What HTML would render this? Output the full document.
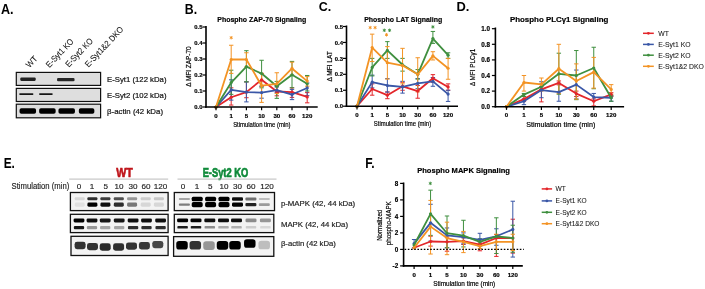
<!DOCTYPE html><html><head><meta charset="utf-8"><style>html,body{margin:0;padding:0;background:#fff;width:705px;height:289px;overflow:hidden}svg{display:block;will-change:transform}</style></head><body>
<svg width="705" height="289" viewBox="0 0 705 289" font-family='"Liberation Sans", sans-serif'>
<defs><filter id="bl" x="-50%" y="-100%" width="200%" height="300%"><feGaussianBlur stdDeviation="0.6"/></filter><filter id="bl2" x="-50%" y="-100%" width="200%" height="300%"><feGaussianBlur stdDeviation="0.5"/></filter></defs>
<rect width="705" height="289" fill="#fff"/>
<text x="0.9" y="13.9" font-size="13.8" font-weight="bold" text-anchor="start" fill="#000" textLength="12.6" lengthAdjust="spacingAndGlyphs" stroke-width="0">A.</text>
<text x="29.5" y="68.3" font-size="8.6" font-weight="normal" text-anchor="start" fill="#111" textLength="12.5" lengthAdjust="spacingAndGlyphs" transform="rotate(-47 29.5 68.3)" stroke="#111" stroke-width="0.06">WT</text>
<text x="49.6" y="68.2" font-size="8.6" font-weight="normal" text-anchor="start" fill="#111" textLength="36" lengthAdjust="spacingAndGlyphs" transform="rotate(-47 49.6 68.2)" stroke="#111" stroke-width="0.06">E-Syt1 KO</text>
<text x="68.9" y="67.8" font-size="8.6" font-weight="normal" text-anchor="start" fill="#111" textLength="36" lengthAdjust="spacingAndGlyphs" transform="rotate(-47 68.9 67.8)" stroke="#111" stroke-width="0.06">E-Syt2 KO</text>
<text x="88.5" y="67.8" font-size="8.6" font-weight="normal" text-anchor="start" fill="#111" textLength="52" lengthAdjust="spacingAndGlyphs" transform="rotate(-47 88.5 67.8)" stroke="#111" stroke-width="0.06">E-Syt1&amp;2 DKO</text>
<rect x="16.3" y="72.4" width="84.3" height="13.0" fill="#dedede" stroke="#111" stroke-width="1.2"/>
<rect x="16.3" y="88.4" width="84.3" height="13.099999999999994" fill="#dedede" stroke="#111" stroke-width="1.2"/>
<rect x="16.3" y="104.2" width="84.3" height="13.599999999999994" fill="#dedede" stroke="#111" stroke-width="1.2"/>
<rect x="20.25" y="77.60" width="15.50" height="3.40" rx="1.13" fill="rgb(35,35,35)" filter="url(#bl)"/>
<rect x="57.05" y="77.90" width="17.50" height="3.40" rx="1.13" fill="rgb(40,40,40)" filter="url(#bl)"/>
<rect x="19.30" y="93.30" width="14.00" height="1.60" rx="0.53" fill="rgb(25,25,25)" filter="url(#bl)"/>
<rect x="39.15" y="93.30" width="13.50" height="1.60" rx="0.53" fill="rgb(25,25,25)" filter="url(#bl)"/>
<rect x="19.55" y="108.30" width="16.50" height="5.40" rx="1.80" fill="rgb(5,5,5)" filter="url(#bl)"/>
<rect x="39.15" y="108.30" width="16.50" height="5.40" rx="1.80" fill="rgb(5,5,5)" filter="url(#bl)"/>
<rect x="58.45" y="108.30" width="16.50" height="5.40" rx="1.80" fill="rgb(5,5,5)" filter="url(#bl)"/>
<rect x="78.85" y="108.30" width="15.50" height="5.40" rx="1.80" fill="rgb(5,5,5)" filter="url(#bl)"/>
<text x="107" y="81.9" font-size="8.1" font-weight="normal" text-anchor="start" fill="#111" textLength="59.5" lengthAdjust="spacingAndGlyphs" stroke="#111" stroke-width="0.2">E-Syt1 (122 kDa)</text>
<text x="107" y="97.7" font-size="8.1" font-weight="normal" text-anchor="start" fill="#111" textLength="59.5" lengthAdjust="spacingAndGlyphs" stroke="#111" stroke-width="0.2">E-Syt2 (102 kDa)</text>
<text x="107" y="113.6" font-size="8.1" font-weight="normal" text-anchor="start" fill="#111" textLength="56" lengthAdjust="spacingAndGlyphs" stroke="#111" stroke-width="0.2">β-actin (42 kDa)</text>
<text x="184.8" y="13.9" font-size="13.8" font-weight="bold" text-anchor="start" fill="#000" textLength="12.3" lengthAdjust="spacingAndGlyphs" stroke-width="0">B.</text>
<text x="261.8" y="22.2" font-size="7.4" font-weight="bold" text-anchor="middle" fill="#000" textLength="89" lengthAdjust="spacingAndGlyphs"  stroke="#000" stroke-width="0.18">Phospho ZAP-70 Signaling</text>
<line x1="231.2" y1="97.24" x2="231.2" y2="87.8" stroke="#e3262b" stroke-width="1.0" />
<line x1="229.0" y1="87.8" x2="233.39999999999998" y2="87.8" stroke="#e3262b" stroke-width="1.0" />
<line x1="231.2" y1="97.24" x2="231.2" y2="105.08" stroke="#e3262b" stroke-width="1.0" />
<line x1="229.0" y1="105.08" x2="233.39999999999998" y2="105.08" stroke="#e3262b" stroke-width="1.0" />
<line x1="246.4" y1="92.12" x2="246.4" y2="81.88" stroke="#e3262b" stroke-width="1.0" />
<line x1="244.20000000000002" y1="81.88" x2="248.6" y2="81.88" stroke="#e3262b" stroke-width="1.0" />
<line x1="246.4" y1="92.12" x2="246.4" y2="97.72" stroke="#e3262b" stroke-width="1.0" />
<line x1="244.20000000000002" y1="97.72" x2="248.6" y2="97.72" stroke="#e3262b" stroke-width="1.0" />
<line x1="261.6" y1="79.8" x2="261.6" y2="73.4" stroke="#e3262b" stroke-width="1.0" />
<line x1="259.40000000000003" y1="73.4" x2="263.8" y2="73.4" stroke="#e3262b" stroke-width="1.0" />
<line x1="261.6" y1="79.8" x2="261.6" y2="86.2" stroke="#e3262b" stroke-width="1.0" />
<line x1="259.40000000000003" y1="86.2" x2="263.8" y2="86.2" stroke="#e3262b" stroke-width="1.0" />
<line x1="276.8" y1="91.48" x2="276.8" y2="86.2" stroke="#e3262b" stroke-width="1.0" />
<line x1="274.6" y1="86.2" x2="279.0" y2="86.2" stroke="#e3262b" stroke-width="1.0" />
<line x1="276.8" y1="91.48" x2="276.8" y2="95.8" stroke="#e3262b" stroke-width="1.0" />
<line x1="274.6" y1="95.8" x2="279.0" y2="95.8" stroke="#e3262b" stroke-width="1.0" />
<line x1="292.0" y1="92.12" x2="292.0" y2="87.8" stroke="#e3262b" stroke-width="1.0" />
<line x1="289.8" y1="87.8" x2="294.2" y2="87.8" stroke="#e3262b" stroke-width="1.0" />
<line x1="292.0" y1="92.12" x2="292.0" y2="97.4" stroke="#e3262b" stroke-width="1.0" />
<line x1="289.8" y1="97.4" x2="294.2" y2="97.4" stroke="#e3262b" stroke-width="1.0" />
<line x1="307.2" y1="96.92" x2="307.2" y2="92.6" stroke="#e3262b" stroke-width="1.0" />
<line x1="305.0" y1="92.6" x2="309.4" y2="92.6" stroke="#e3262b" stroke-width="1.0" />
<line x1="307.2" y1="96.92" x2="307.2" y2="102.84" stroke="#e3262b" stroke-width="1.0" />
<line x1="305.0" y1="102.84" x2="309.4" y2="102.84" stroke="#e3262b" stroke-width="1.0" />
<line x1="231.2" y1="89.88" x2="231.2" y2="79.8" stroke="#3a57a7" stroke-width="1.0" />
<line x1="229.0" y1="79.8" x2="233.39999999999998" y2="79.8" stroke="#3a57a7" stroke-width="1.0" />
<line x1="231.2" y1="89.88" x2="231.2" y2="100.12" stroke="#3a57a7" stroke-width="1.0" />
<line x1="229.0" y1="100.12" x2="233.39999999999998" y2="100.12" stroke="#3a57a7" stroke-width="1.0" />
<line x1="246.4" y1="92.12" x2="246.4" y2="81.88" stroke="#3a57a7" stroke-width="1.0" />
<line x1="244.20000000000002" y1="81.88" x2="248.6" y2="81.88" stroke="#3a57a7" stroke-width="1.0" />
<line x1="246.4" y1="92.12" x2="246.4" y2="101.88" stroke="#3a57a7" stroke-width="1.0" />
<line x1="244.20000000000002" y1="101.88" x2="248.6" y2="101.88" stroke="#3a57a7" stroke-width="1.0" />
<line x1="261.6" y1="92.6" x2="261.6" y2="86.2" stroke="#3a57a7" stroke-width="1.0" />
<line x1="259.40000000000003" y1="86.2" x2="263.8" y2="86.2" stroke="#3a57a7" stroke-width="1.0" />
<line x1="261.6" y1="92.6" x2="261.6" y2="98.2" stroke="#3a57a7" stroke-width="1.0" />
<line x1="259.40000000000003" y1="98.2" x2="263.8" y2="98.2" stroke="#3a57a7" stroke-width="1.0" />
<line x1="276.8" y1="90.04" x2="276.8" y2="87.0" stroke="#3a57a7" stroke-width="1.0" />
<line x1="274.6" y1="87.0" x2="279.0" y2="87.0" stroke="#3a57a7" stroke-width="1.0" />
<line x1="276.8" y1="90.04" x2="276.8" y2="92.6" stroke="#3a57a7" stroke-width="1.0" />
<line x1="274.6" y1="92.6" x2="279.0" y2="92.6" stroke="#3a57a7" stroke-width="1.0" />
<line x1="292.0" y1="94.52" x2="292.0" y2="89.4" stroke="#3a57a7" stroke-width="1.0" />
<line x1="289.8" y1="89.4" x2="294.2" y2="89.4" stroke="#3a57a7" stroke-width="1.0" />
<line x1="292.0" y1="94.52" x2="292.0" y2="99.64" stroke="#3a57a7" stroke-width="1.0" />
<line x1="289.8" y1="99.64" x2="294.2" y2="99.64" stroke="#3a57a7" stroke-width="1.0" />
<line x1="307.2" y1="87.96" x2="307.2" y2="83.0" stroke="#3a57a7" stroke-width="1.0" />
<line x1="305.0" y1="83.0" x2="309.4" y2="83.0" stroke="#3a57a7" stroke-width="1.0" />
<line x1="307.2" y1="87.96" x2="307.2" y2="95.64" stroke="#3a57a7" stroke-width="1.0" />
<line x1="305.0" y1="95.64" x2="309.4" y2="95.64" stroke="#3a57a7" stroke-width="1.0" />
<line x1="231.2" y1="82.52" x2="231.2" y2="70.2" stroke="#3f8f3f" stroke-width="1.0" />
<line x1="229.0" y1="70.2" x2="233.39999999999998" y2="70.2" stroke="#3f8f3f" stroke-width="1.0" />
<line x1="231.2" y1="82.52" x2="231.2" y2="94.36" stroke="#3f8f3f" stroke-width="1.0" />
<line x1="229.0" y1="94.36" x2="233.39999999999998" y2="94.36" stroke="#3f8f3f" stroke-width="1.0" />
<line x1="246.4" y1="66.68" x2="246.4" y2="50.68" stroke="#3f8f3f" stroke-width="1.0" />
<line x1="244.20000000000002" y1="50.68" x2="248.6" y2="50.68" stroke="#3f8f3f" stroke-width="1.0" />
<line x1="246.4" y1="66.68" x2="246.4" y2="81.88" stroke="#3f8f3f" stroke-width="1.0" />
<line x1="244.20000000000002" y1="81.88" x2="248.6" y2="81.88" stroke="#3f8f3f" stroke-width="1.0" />
<line x1="261.6" y1="73.56" x2="261.6" y2="60.28" stroke="#3f8f3f" stroke-width="1.0" />
<line x1="259.40000000000003" y1="60.28" x2="263.8" y2="60.28" stroke="#3f8f3f" stroke-width="1.0" />
<line x1="261.6" y1="73.56" x2="261.6" y2="87.8" stroke="#3f8f3f" stroke-width="1.0" />
<line x1="259.40000000000003" y1="87.8" x2="263.8" y2="87.8" stroke="#3f8f3f" stroke-width="1.0" />
<line x1="276.8" y1="86.2" x2="276.8" y2="81.4" stroke="#3f8f3f" stroke-width="1.0" />
<line x1="274.6" y1="81.4" x2="279.0" y2="81.4" stroke="#3f8f3f" stroke-width="1.0" />
<line x1="276.8" y1="86.2" x2="276.8" y2="98.36" stroke="#3f8f3f" stroke-width="1.0" />
<line x1="274.6" y1="98.36" x2="279.0" y2="98.36" stroke="#3f8f3f" stroke-width="1.0" />
<line x1="292.0" y1="74.84" x2="292.0" y2="61.4" stroke="#3f8f3f" stroke-width="1.0" />
<line x1="289.8" y1="61.4" x2="294.2" y2="61.4" stroke="#3f8f3f" stroke-width="1.0" />
<line x1="292.0" y1="74.84" x2="292.0" y2="87.8" stroke="#3f8f3f" stroke-width="1.0" />
<line x1="289.8" y1="87.8" x2="294.2" y2="87.8" stroke="#3f8f3f" stroke-width="1.0" />
<line x1="307.2" y1="83.8" x2="307.2" y2="75.48" stroke="#3f8f3f" stroke-width="1.0" />
<line x1="305.0" y1="75.48" x2="309.4" y2="75.48" stroke="#3f8f3f" stroke-width="1.0" />
<line x1="307.2" y1="83.8" x2="307.2" y2="91.0" stroke="#3f8f3f" stroke-width="1.0" />
<line x1="305.0" y1="91.0" x2="309.4" y2="91.0" stroke="#3f8f3f" stroke-width="1.0" />
<line x1="231.2" y1="59.48" x2="231.2" y2="45.24" stroke="#f39324" stroke-width="1.0" />
<line x1="229.0" y1="45.24" x2="233.39999999999998" y2="45.24" stroke="#f39324" stroke-width="1.0" />
<line x1="231.2" y1="59.48" x2="231.2" y2="73.4" stroke="#f39324" stroke-width="1.0" />
<line x1="229.0" y1="73.4" x2="233.39999999999998" y2="73.4" stroke="#f39324" stroke-width="1.0" />
<line x1="246.4" y1="59.48" x2="246.4" y2="52.76" stroke="#f39324" stroke-width="1.0" />
<line x1="244.20000000000002" y1="52.76" x2="248.6" y2="52.76" stroke="#f39324" stroke-width="1.0" />
<line x1="246.4" y1="59.48" x2="246.4" y2="67.0" stroke="#f39324" stroke-width="1.0" />
<line x1="244.20000000000002" y1="67.0" x2="248.6" y2="67.0" stroke="#f39324" stroke-width="1.0" />
<line x1="261.6" y1="85.72" x2="261.6" y2="73.4" stroke="#f39324" stroke-width="1.0" />
<line x1="259.40000000000003" y1="73.4" x2="263.8" y2="73.4" stroke="#f39324" stroke-width="1.0" />
<line x1="261.6" y1="85.72" x2="261.6" y2="102.36" stroke="#f39324" stroke-width="1.0" />
<line x1="259.40000000000003" y1="102.36" x2="263.8" y2="102.36" stroke="#f39324" stroke-width="1.0" />
<line x1="276.8" y1="83.8" x2="276.8" y2="72.76" stroke="#f39324" stroke-width="1.0" />
<line x1="274.6" y1="72.76" x2="279.0" y2="72.76" stroke="#f39324" stroke-width="1.0" />
<line x1="276.8" y1="83.8" x2="276.8" y2="93.56" stroke="#f39324" stroke-width="1.0" />
<line x1="274.6" y1="93.56" x2="279.0" y2="93.56" stroke="#f39324" stroke-width="1.0" />
<line x1="292.0" y1="68.44" x2="292.0" y2="62.2" stroke="#f39324" stroke-width="1.0" />
<line x1="289.8" y1="62.2" x2="294.2" y2="62.2" stroke="#f39324" stroke-width="1.0" />
<line x1="292.0" y1="68.44" x2="292.0" y2="75.0" stroke="#f39324" stroke-width="1.0" />
<line x1="289.8" y1="75.0" x2="294.2" y2="75.0" stroke="#f39324" stroke-width="1.0" />
<line x1="307.2" y1="81.08" x2="307.2" y2="76.6" stroke="#f39324" stroke-width="1.0" />
<line x1="305.0" y1="76.6" x2="309.4" y2="76.6" stroke="#f39324" stroke-width="1.0" />
<line x1="307.2" y1="81.08" x2="307.2" y2="86.2" stroke="#f39324" stroke-width="1.0" />
<line x1="305.0" y1="86.2" x2="309.4" y2="86.2" stroke="#f39324" stroke-width="1.0" />
<polyline points="216.0,107 231.2,97.24 246.4,92.12 261.6,79.8 276.8,91.48 292.0,92.12 307.2,96.92" fill="none" stroke="#e3262b" stroke-width="1.8" stroke-linejoin="round"/>
<circle cx="216.0" cy="107" r="1.6" fill="#e3262b"/>
<circle cx="231.2" cy="97.24" r="1.6" fill="#e3262b"/>
<circle cx="246.4" cy="92.12" r="1.6" fill="#e3262b"/>
<circle cx="261.6" cy="79.8" r="1.6" fill="#e3262b"/>
<circle cx="276.8" cy="91.48" r="1.6" fill="#e3262b"/>
<circle cx="292.0" cy="92.12" r="1.6" fill="#e3262b"/>
<circle cx="307.2" cy="96.92" r="1.6" fill="#e3262b"/>
<polyline points="216.0,107 231.2,89.88 246.4,92.12 261.6,92.6 276.8,90.04 292.0,94.52 307.2,87.96" fill="none" stroke="#3a57a7" stroke-width="1.8" stroke-linejoin="round"/>
<circle cx="216.0" cy="107" r="1.6" fill="#3a57a7"/>
<circle cx="231.2" cy="89.88" r="1.6" fill="#3a57a7"/>
<circle cx="246.4" cy="92.12" r="1.6" fill="#3a57a7"/>
<circle cx="261.6" cy="92.6" r="1.6" fill="#3a57a7"/>
<circle cx="276.8" cy="90.04" r="1.6" fill="#3a57a7"/>
<circle cx="292.0" cy="94.52" r="1.6" fill="#3a57a7"/>
<circle cx="307.2" cy="87.96" r="1.6" fill="#3a57a7"/>
<polyline points="216.0,107 231.2,82.52 246.4,66.68 261.6,73.56 276.8,86.2 292.0,74.84 307.2,83.8" fill="none" stroke="#3f8f3f" stroke-width="1.8" stroke-linejoin="round"/>
<circle cx="216.0" cy="107" r="1.6" fill="#3f8f3f"/>
<circle cx="231.2" cy="82.52" r="1.6" fill="#3f8f3f"/>
<circle cx="246.4" cy="66.68" r="1.6" fill="#3f8f3f"/>
<circle cx="261.6" cy="73.56" r="1.6" fill="#3f8f3f"/>
<circle cx="276.8" cy="86.2" r="1.6" fill="#3f8f3f"/>
<circle cx="292.0" cy="74.84" r="1.6" fill="#3f8f3f"/>
<circle cx="307.2" cy="83.8" r="1.6" fill="#3f8f3f"/>
<polyline points="216.0,107 231.2,59.48 246.4,59.48 261.6,85.72 276.8,83.8 292.0,68.44 307.2,81.08" fill="none" stroke="#f39324" stroke-width="1.8" stroke-linejoin="round"/>
<circle cx="216.0" cy="107" r="1.6" fill="#f39324"/>
<circle cx="231.2" cy="59.48" r="1.6" fill="#f39324"/>
<circle cx="246.4" cy="59.48" r="1.6" fill="#f39324"/>
<circle cx="261.6" cy="85.72" r="1.6" fill="#f39324"/>
<circle cx="276.8" cy="83.8" r="1.6" fill="#f39324"/>
<circle cx="292.0" cy="68.44" r="1.6" fill="#f39324"/>
<circle cx="307.2" cy="81.08" r="1.6" fill="#f39324"/>
<line x1="206" y1="26" x2="206" y2="107.8" stroke="#000" stroke-width="1.6" />
<line x1="205.2" y1="107" x2="317.7" y2="107" stroke="#000" stroke-width="1.6" />
<line x1="202.5" y1="107" x2="206" y2="107" stroke="#000" stroke-width="1.2" />
<text x="202.5" y="109.124" font-size="5.9" font-weight="bold" text-anchor="end" fill="#000"  stroke="#000" stroke-width="0.18">0.0</text>
<line x1="202.5" y1="91" x2="206" y2="91" stroke="#000" stroke-width="1.2" />
<text x="202.5" y="93.124" font-size="5.9" font-weight="bold" text-anchor="end" fill="#000"  stroke="#000" stroke-width="0.18">0.1</text>
<line x1="202.5" y1="75" x2="206" y2="75" stroke="#000" stroke-width="1.2" />
<text x="202.5" y="77.124" font-size="5.9" font-weight="bold" text-anchor="end" fill="#000"  stroke="#000" stroke-width="0.18">0.2</text>
<line x1="202.5" y1="59" x2="206" y2="59" stroke="#000" stroke-width="1.2" />
<text x="202.5" y="61.124" font-size="5.9" font-weight="bold" text-anchor="end" fill="#000"  stroke="#000" stroke-width="0.18">0.3</text>
<line x1="202.5" y1="43" x2="206" y2="43" stroke="#000" stroke-width="1.2" />
<text x="202.5" y="45.124" font-size="5.9" font-weight="bold" text-anchor="end" fill="#000"  stroke="#000" stroke-width="0.18">0.4</text>
<line x1="202.5" y1="27" x2="206" y2="27" stroke="#000" stroke-width="1.2" />
<text x="202.5" y="29.124" font-size="5.9" font-weight="bold" text-anchor="end" fill="#000"  stroke="#000" stroke-width="0.18">0.5</text>
<line x1="216.0" y1="107" x2="216.0" y2="110.2" stroke="#000" stroke-width="1.2" />
<line x1="231.2" y1="107" x2="231.2" y2="110.2" stroke="#000" stroke-width="1.2" />
<line x1="246.4" y1="107" x2="246.4" y2="110.2" stroke="#000" stroke-width="1.2" />
<line x1="261.6" y1="107" x2="261.6" y2="110.2" stroke="#000" stroke-width="1.2" />
<line x1="276.8" y1="107" x2="276.8" y2="110.2" stroke="#000" stroke-width="1.2" />
<line x1="292.0" y1="107" x2="292.0" y2="110.2" stroke="#000" stroke-width="1.2" />
<line x1="307.2" y1="107" x2="307.2" y2="110.2" stroke="#000" stroke-width="1.2" />
<path d="M231.20,36.00L231.20,39.40M229.73,36.85L232.67,38.55M232.67,36.85L229.73,38.55" stroke="#f39324" stroke-width="0.95" fill="none"/>
<text x="190.8" y="66.6" font-size="7" font-weight="normal" text-anchor="middle" fill="#000" textLength="40.5" lengthAdjust="spacingAndGlyphs" transform="rotate(-90 190.8 66.6)"  stroke="#000" stroke-width="0.18">Δ MFI ZAP-70</text>
<text x="216.0" y="117.9" font-size="6.1" font-weight="bold" text-anchor="middle" fill="#000"  stroke="#000" stroke-width="0.18">0</text>
<text x="231.2" y="117.9" font-size="6.1" font-weight="bold" text-anchor="middle" fill="#000"  stroke="#000" stroke-width="0.18">1</text>
<text x="246.4" y="117.9" font-size="6.1" font-weight="bold" text-anchor="middle" fill="#000"  stroke="#000" stroke-width="0.18">5</text>
<text x="261.6" y="117.9" font-size="6.1" font-weight="bold" text-anchor="middle" fill="#000"  stroke="#000" stroke-width="0.18">10</text>
<text x="276.8" y="117.9" font-size="6.1" font-weight="bold" text-anchor="middle" fill="#000"  stroke="#000" stroke-width="0.18">30</text>
<text x="292.0" y="117.9" font-size="6.1" font-weight="bold" text-anchor="middle" fill="#000"  stroke="#000" stroke-width="0.18">60</text>
<text x="307.2" y="117.9" font-size="6.1" font-weight="bold" text-anchor="middle" fill="#000"  stroke="#000" stroke-width="0.18">120</text>
<text x="261.8" y="126.7" font-size="6.6" font-weight="normal" text-anchor="middle" fill="#000" textLength="57.3" lengthAdjust="spacingAndGlyphs"  stroke="#000" stroke-width="0.18">Stimulation time (min)</text>
<text x="318.8" y="10.6" font-size="13.6" font-weight="bold" text-anchor="start" fill="#000" textLength="12.5" lengthAdjust="spacingAndGlyphs" stroke-width="0">C.</text>
<text x="403.2" y="21.8" font-size="7.4" font-weight="bold" text-anchor="middle" fill="#000" textLength="78" lengthAdjust="spacingAndGlyphs"  stroke="#000" stroke-width="0.18">Phospho LAT Signaling</text>
<line x1="372.18" y1="88.98" x2="372.18" y2="83.88" stroke="#e3262b" stroke-width="1.0" />
<line x1="369.98" y1="83.88" x2="374.38" y2="83.88" stroke="#e3262b" stroke-width="1.0" />
<line x1="372.18" y1="88.98" x2="372.18" y2="95.2" stroke="#e3262b" stroke-width="1.0" />
<line x1="369.98" y1="95.2" x2="374.38" y2="95.2" stroke="#e3262b" stroke-width="1.0" />
<line x1="387.36" y1="95.2" x2="387.36" y2="91.85" stroke="#e3262b" stroke-width="1.0" />
<line x1="385.16" y1="91.85" x2="389.56" y2="91.85" stroke="#e3262b" stroke-width="1.0" />
<line x1="387.36" y1="95.2" x2="387.36" y2="98.71" stroke="#e3262b" stroke-width="1.0" />
<line x1="385.16" y1="98.71" x2="389.56" y2="98.71" stroke="#e3262b" stroke-width="1.0" />
<line x1="402.54" y1="86.28" x2="402.54" y2="82.29" stroke="#e3262b" stroke-width="1.0" />
<line x1="400.34000000000003" y1="82.29" x2="404.74" y2="82.29" stroke="#e3262b" stroke-width="1.0" />
<line x1="402.54" y1="86.28" x2="402.54" y2="90.26" stroke="#e3262b" stroke-width="1.0" />
<line x1="400.34000000000003" y1="90.26" x2="404.74" y2="90.26" stroke="#e3262b" stroke-width="1.0" />
<line x1="417.72" y1="91.06" x2="417.72" y2="85.48" stroke="#e3262b" stroke-width="1.0" />
<line x1="415.52000000000004" y1="85.48" x2="419.92" y2="85.48" stroke="#e3262b" stroke-width="1.0" />
<line x1="417.72" y1="91.06" x2="417.72" y2="98.23" stroke="#e3262b" stroke-width="1.0" />
<line x1="415.52000000000004" y1="98.23" x2="419.92" y2="98.23" stroke="#e3262b" stroke-width="1.0" />
<line x1="432.9" y1="78.31" x2="432.9" y2="74.64" stroke="#e3262b" stroke-width="1.0" />
<line x1="430.7" y1="74.64" x2="435.09999999999997" y2="74.64" stroke="#e3262b" stroke-width="1.0" />
<line x1="432.9" y1="78.31" x2="432.9" y2="82.29" stroke="#e3262b" stroke-width="1.0" />
<line x1="430.7" y1="82.29" x2="435.09999999999997" y2="82.29" stroke="#e3262b" stroke-width="1.0" />
<line x1="448.08" y1="86.91" x2="448.08" y2="83.88" stroke="#e3262b" stroke-width="1.0" />
<line x1="445.88" y1="83.88" x2="450.28" y2="83.88" stroke="#e3262b" stroke-width="1.0" />
<line x1="448.08" y1="86.91" x2="448.08" y2="90.26" stroke="#e3262b" stroke-width="1.0" />
<line x1="445.88" y1="90.26" x2="450.28" y2="90.26" stroke="#e3262b" stroke-width="1.0" />
<line x1="372.18" y1="82.13" x2="372.18" y2="75.12" stroke="#3a57a7" stroke-width="1.0" />
<line x1="369.98" y1="75.12" x2="374.38" y2="75.12" stroke="#3a57a7" stroke-width="1.0" />
<line x1="372.18" y1="82.13" x2="372.18" y2="87.87" stroke="#3a57a7" stroke-width="1.0" />
<line x1="369.98" y1="87.87" x2="374.38" y2="87.87" stroke="#3a57a7" stroke-width="1.0" />
<line x1="387.36" y1="85.48" x2="387.36" y2="78.62" stroke="#3a57a7" stroke-width="1.0" />
<line x1="385.16" y1="78.62" x2="389.56" y2="78.62" stroke="#3a57a7" stroke-width="1.0" />
<line x1="387.36" y1="85.48" x2="387.36" y2="92.17" stroke="#3a57a7" stroke-width="1.0" />
<line x1="385.16" y1="92.17" x2="389.56" y2="92.17" stroke="#3a57a7" stroke-width="1.0" />
<line x1="402.54" y1="86.91" x2="402.54" y2="81.33" stroke="#3a57a7" stroke-width="1.0" />
<line x1="400.34000000000003" y1="81.33" x2="404.74" y2="81.33" stroke="#3a57a7" stroke-width="1.0" />
<line x1="402.54" y1="86.91" x2="402.54" y2="93.13" stroke="#3a57a7" stroke-width="1.0" />
<line x1="400.34000000000003" y1="93.13" x2="404.74" y2="93.13" stroke="#3a57a7" stroke-width="1.0" />
<line x1="417.72" y1="83.41" x2="417.72" y2="78.62" stroke="#3a57a7" stroke-width="1.0" />
<line x1="415.52000000000004" y1="78.62" x2="419.92" y2="78.62" stroke="#3a57a7" stroke-width="1.0" />
<line x1="417.72" y1="83.41" x2="417.72" y2="88.67" stroke="#3a57a7" stroke-width="1.0" />
<line x1="415.52000000000004" y1="88.67" x2="419.92" y2="88.67" stroke="#3a57a7" stroke-width="1.0" />
<line x1="432.9" y1="81.33" x2="432.9" y2="77.51" stroke="#3a57a7" stroke-width="1.0" />
<line x1="430.7" y1="77.51" x2="435.09999999999997" y2="77.51" stroke="#3a57a7" stroke-width="1.0" />
<line x1="432.9" y1="81.33" x2="432.9" y2="86.28" stroke="#3a57a7" stroke-width="1.0" />
<line x1="430.7" y1="86.28" x2="435.09999999999997" y2="86.28" stroke="#3a57a7" stroke-width="1.0" />
<line x1="448.08" y1="94.09" x2="448.08" y2="90.26" stroke="#3a57a7" stroke-width="1.0" />
<line x1="445.88" y1="90.26" x2="450.28" y2="90.26" stroke="#3a57a7" stroke-width="1.0" />
<line x1="448.08" y1="94.09" x2="448.08" y2="101.42" stroke="#3a57a7" stroke-width="1.0" />
<line x1="445.88" y1="101.42" x2="450.28" y2="101.42" stroke="#3a57a7" stroke-width="1.0" />
<line x1="372.18" y1="67.47" x2="372.18" y2="58.38" stroke="#3f8f3f" stroke-width="1.0" />
<line x1="369.98" y1="58.38" x2="374.38" y2="58.38" stroke="#3f8f3f" stroke-width="1.0" />
<line x1="372.18" y1="67.47" x2="372.18" y2="75.91" stroke="#3f8f3f" stroke-width="1.0" />
<line x1="369.98" y1="75.91" x2="374.38" y2="75.91" stroke="#3f8f3f" stroke-width="1.0" />
<line x1="387.36" y1="50.41" x2="387.36" y2="41.64" stroke="#3f8f3f" stroke-width="1.0" />
<line x1="385.16" y1="41.64" x2="389.56" y2="41.64" stroke="#3f8f3f" stroke-width="1.0" />
<line x1="387.36" y1="50.41" x2="387.36" y2="58.38" stroke="#3f8f3f" stroke-width="1.0" />
<line x1="385.16" y1="58.38" x2="389.56" y2="58.38" stroke="#3f8f3f" stroke-width="1.0" />
<line x1="402.54" y1="64.76" x2="402.54" y2="58.38" stroke="#3f8f3f" stroke-width="1.0" />
<line x1="400.34000000000003" y1="58.38" x2="404.74" y2="58.38" stroke="#3f8f3f" stroke-width="1.0" />
<line x1="402.54" y1="64.76" x2="402.54" y2="71.13" stroke="#3f8f3f" stroke-width="1.0" />
<line x1="400.34000000000003" y1="71.13" x2="404.74" y2="71.13" stroke="#3f8f3f" stroke-width="1.0" />
<line x1="417.72" y1="74.32" x2="417.72" y2="69.54" stroke="#3f8f3f" stroke-width="1.0" />
<line x1="415.52000000000004" y1="69.54" x2="419.92" y2="69.54" stroke="#3f8f3f" stroke-width="1.0" />
<line x1="417.72" y1="74.32" x2="417.72" y2="79.1" stroke="#3f8f3f" stroke-width="1.0" />
<line x1="415.52000000000004" y1="79.1" x2="419.92" y2="79.1" stroke="#3f8f3f" stroke-width="1.0" />
<line x1="432.9" y1="38.61" x2="432.9" y2="31.44" stroke="#3f8f3f" stroke-width="1.0" />
<line x1="430.7" y1="31.44" x2="435.09999999999997" y2="31.44" stroke="#3f8f3f" stroke-width="1.0" />
<line x1="432.9" y1="38.61" x2="432.9" y2="43.4" stroke="#3f8f3f" stroke-width="1.0" />
<line x1="430.7" y1="43.4" x2="435.09999999999997" y2="43.4" stroke="#3f8f3f" stroke-width="1.0" />
<line x1="448.08" y1="55.19" x2="448.08" y2="52.8" stroke="#3f8f3f" stroke-width="1.0" />
<line x1="445.88" y1="52.8" x2="450.28" y2="52.8" stroke="#3f8f3f" stroke-width="1.0" />
<line x1="448.08" y1="55.19" x2="448.08" y2="58.38" stroke="#3f8f3f" stroke-width="1.0" />
<line x1="445.88" y1="58.38" x2="450.28" y2="58.38" stroke="#3f8f3f" stroke-width="1.0" />
<line x1="372.18" y1="47.54" x2="372.18" y2="34.15" stroke="#f39324" stroke-width="1.0" />
<line x1="369.98" y1="34.15" x2="374.38" y2="34.15" stroke="#f39324" stroke-width="1.0" />
<line x1="372.18" y1="47.54" x2="372.18" y2="61.57" stroke="#f39324" stroke-width="1.0" />
<line x1="369.98" y1="61.57" x2="374.38" y2="61.57" stroke="#f39324" stroke-width="1.0" />
<line x1="387.36" y1="62.68" x2="387.36" y2="46.58" stroke="#f39324" stroke-width="1.0" />
<line x1="385.16" y1="46.58" x2="389.56" y2="46.58" stroke="#f39324" stroke-width="1.0" />
<line x1="387.36" y1="62.68" x2="387.36" y2="79.1" stroke="#f39324" stroke-width="1.0" />
<line x1="385.16" y1="79.1" x2="389.56" y2="79.1" stroke="#f39324" stroke-width="1.0" />
<line x1="402.54" y1="65.55" x2="402.54" y2="48.34" stroke="#f39324" stroke-width="1.0" />
<line x1="400.34000000000003" y1="48.34" x2="404.74" y2="48.34" stroke="#f39324" stroke-width="1.0" />
<line x1="402.54" y1="65.55" x2="402.54" y2="83.88" stroke="#f39324" stroke-width="1.0" />
<line x1="400.34000000000003" y1="83.88" x2="404.74" y2="83.88" stroke="#f39324" stroke-width="1.0" />
<line x1="417.72" y1="74.32" x2="417.72" y2="57.74" stroke="#f39324" stroke-width="1.0" />
<line x1="415.52000000000004" y1="57.74" x2="419.92" y2="57.74" stroke="#f39324" stroke-width="1.0" />
<line x1="417.72" y1="74.32" x2="417.72" y2="91.85" stroke="#f39324" stroke-width="1.0" />
<line x1="415.52000000000004" y1="91.85" x2="419.92" y2="91.85" stroke="#f39324" stroke-width="1.0" />
<line x1="432.9" y1="55.83" x2="432.9" y2="51.69" stroke="#f39324" stroke-width="1.0" />
<line x1="430.7" y1="51.69" x2="435.09999999999997" y2="51.69" stroke="#f39324" stroke-width="1.0" />
<line x1="432.9" y1="55.83" x2="432.9" y2="59.97" stroke="#f39324" stroke-width="1.0" />
<line x1="430.7" y1="59.97" x2="435.09999999999997" y2="59.97" stroke="#f39324" stroke-width="1.0" />
<line x1="448.08" y1="68.26" x2="448.08" y2="58.38" stroke="#f39324" stroke-width="1.0" />
<line x1="445.88" y1="58.38" x2="450.28" y2="58.38" stroke="#f39324" stroke-width="1.0" />
<line x1="448.08" y1="68.26" x2="448.08" y2="79.26" stroke="#f39324" stroke-width="1.0" />
<line x1="445.88" y1="79.26" x2="450.28" y2="79.26" stroke="#f39324" stroke-width="1.0" />
<polyline points="357.0,106.2 372.18,88.98 387.36,95.2 402.54,86.28 417.72,91.06 432.9,78.31 448.08,86.91" fill="none" stroke="#e3262b" stroke-width="1.8" stroke-linejoin="round"/>
<circle cx="357.0" cy="106.2" r="1.6" fill="#e3262b"/>
<circle cx="372.18" cy="88.98" r="1.6" fill="#e3262b"/>
<circle cx="387.36" cy="95.2" r="1.6" fill="#e3262b"/>
<circle cx="402.54" cy="86.28" r="1.6" fill="#e3262b"/>
<circle cx="417.72" cy="91.06" r="1.6" fill="#e3262b"/>
<circle cx="432.9" cy="78.31" r="1.6" fill="#e3262b"/>
<circle cx="448.08" cy="86.91" r="1.6" fill="#e3262b"/>
<polyline points="357.0,106.2 372.18,82.13 387.36,85.48 402.54,86.91 417.72,83.41 432.9,81.33 448.08,94.09" fill="none" stroke="#3a57a7" stroke-width="1.8" stroke-linejoin="round"/>
<circle cx="357.0" cy="106.2" r="1.6" fill="#3a57a7"/>
<circle cx="372.18" cy="82.13" r="1.6" fill="#3a57a7"/>
<circle cx="387.36" cy="85.48" r="1.6" fill="#3a57a7"/>
<circle cx="402.54" cy="86.91" r="1.6" fill="#3a57a7"/>
<circle cx="417.72" cy="83.41" r="1.6" fill="#3a57a7"/>
<circle cx="432.9" cy="81.33" r="1.6" fill="#3a57a7"/>
<circle cx="448.08" cy="94.09" r="1.6" fill="#3a57a7"/>
<polyline points="357.0,106.2 372.18,67.47 387.36,50.41 402.54,64.76 417.72,74.32 432.9,38.61 448.08,55.19" fill="none" stroke="#3f8f3f" stroke-width="1.8" stroke-linejoin="round"/>
<circle cx="357.0" cy="106.2" r="1.6" fill="#3f8f3f"/>
<circle cx="372.18" cy="67.47" r="1.6" fill="#3f8f3f"/>
<circle cx="387.36" cy="50.41" r="1.6" fill="#3f8f3f"/>
<circle cx="402.54" cy="64.76" r="1.6" fill="#3f8f3f"/>
<circle cx="417.72" cy="74.32" r="1.6" fill="#3f8f3f"/>
<circle cx="432.9" cy="38.61" r="1.6" fill="#3f8f3f"/>
<circle cx="448.08" cy="55.19" r="1.6" fill="#3f8f3f"/>
<polyline points="357.0,106.2 372.18,47.54 387.36,62.68 402.54,65.55 417.72,74.32 432.9,55.83 448.08,68.26" fill="none" stroke="#f39324" stroke-width="1.8" stroke-linejoin="round"/>
<circle cx="357.0" cy="106.2" r="1.6" fill="#f39324"/>
<circle cx="372.18" cy="47.54" r="1.6" fill="#f39324"/>
<circle cx="387.36" cy="62.68" r="1.6" fill="#f39324"/>
<circle cx="402.54" cy="65.55" r="1.6" fill="#f39324"/>
<circle cx="417.72" cy="74.32" r="1.6" fill="#f39324"/>
<circle cx="432.9" cy="55.83" r="1.6" fill="#f39324"/>
<circle cx="448.08" cy="68.26" r="1.6" fill="#f39324"/>
<line x1="346.5" y1="25.5" x2="346.5" y2="107.0" stroke="#000" stroke-width="1.6" />
<line x1="345.7" y1="106.2" x2="458" y2="106.2" stroke="#000" stroke-width="1.6" />
<line x1="343.0" y1="106.2" x2="346.5" y2="106.2" stroke="#000" stroke-width="1.2" />
<text x="343.0" y="108.324" font-size="5.9" font-weight="bold" text-anchor="end" fill="#000"  stroke="#000" stroke-width="0.18">0.0</text>
<line x1="343.0" y1="90.26" x2="346.5" y2="90.26" stroke="#000" stroke-width="1.2" />
<text x="343.0" y="92.384" font-size="5.9" font-weight="bold" text-anchor="end" fill="#000"  stroke="#000" stroke-width="0.18">0.1</text>
<line x1="343.0" y1="74.32" x2="346.5" y2="74.32" stroke="#000" stroke-width="1.2" />
<text x="343.0" y="76.44399999999999" font-size="5.9" font-weight="bold" text-anchor="end" fill="#000"  stroke="#000" stroke-width="0.18">0.2</text>
<line x1="343.0" y1="58.38" x2="346.5" y2="58.38" stroke="#000" stroke-width="1.2" />
<text x="343.0" y="60.504000000000005" font-size="5.9" font-weight="bold" text-anchor="end" fill="#000"  stroke="#000" stroke-width="0.18">0.3</text>
<line x1="343.0" y1="42.44" x2="346.5" y2="42.44" stroke="#000" stroke-width="1.2" />
<text x="343.0" y="44.564" font-size="5.9" font-weight="bold" text-anchor="end" fill="#000"  stroke="#000" stroke-width="0.18">0.4</text>
<line x1="343.0" y1="26.5" x2="346.5" y2="26.5" stroke="#000" stroke-width="1.2" />
<text x="343.0" y="28.624" font-size="5.9" font-weight="bold" text-anchor="end" fill="#000"  stroke="#000" stroke-width="0.18">0.5</text>
<line x1="357.0" y1="106.2" x2="357.0" y2="109.4" stroke="#000" stroke-width="1.2" />
<line x1="372.18" y1="106.2" x2="372.18" y2="109.4" stroke="#000" stroke-width="1.2" />
<line x1="387.36" y1="106.2" x2="387.36" y2="109.4" stroke="#000" stroke-width="1.2" />
<line x1="402.54" y1="106.2" x2="402.54" y2="109.4" stroke="#000" stroke-width="1.2" />
<line x1="417.72" y1="106.2" x2="417.72" y2="109.4" stroke="#000" stroke-width="1.2" />
<line x1="432.9" y1="106.2" x2="432.9" y2="109.4" stroke="#000" stroke-width="1.2" />
<line x1="448.08" y1="106.2" x2="448.08" y2="109.4" stroke="#000" stroke-width="1.2" />
<path d="M370.20,25.90L370.20,29.30M368.73,26.75L371.67,28.45M371.67,26.75L368.73,28.45" stroke="#f39324" stroke-width="0.95" fill="none"/>
<path d="M375.10,25.90L375.10,29.30M373.63,26.75L376.57,28.45M376.57,26.75L373.63,28.45" stroke="#f39324" stroke-width="0.95" fill="none"/>
<path d="M384.30,28.60L384.30,32.00M382.83,29.45L385.77,31.15M385.77,29.45L382.83,31.15" stroke="#3f8f3f" stroke-width="0.95" fill="none"/>
<path d="M389.60,28.60L389.60,32.00M388.13,29.45L391.07,31.15M391.07,29.45L388.13,31.15" stroke="#3f8f3f" stroke-width="0.95" fill="none"/>
<path d="M386.50,33.10L386.50,36.50M385.03,33.95L387.97,35.65M387.97,33.95L385.03,35.65" stroke="#f39324" stroke-width="0.95" fill="none"/>
<path d="M432.90,25.20L432.90,28.60M431.43,26.05L434.37,27.75M434.37,26.05L431.43,27.75" stroke="#3f8f3f" stroke-width="0.95" fill="none"/>
<text x="331.8" y="66.3" font-size="7" font-weight="normal" text-anchor="middle" fill="#000" textLength="30.3" lengthAdjust="spacingAndGlyphs" transform="rotate(-90 331.8 66.3)"  stroke="#000" stroke-width="0.18">Δ MFI LAT</text>
<text x="357.0" y="117.2" font-size="6.1" font-weight="bold" text-anchor="middle" fill="#000"  stroke="#000" stroke-width="0.18">0</text>
<text x="372.18" y="117.2" font-size="6.1" font-weight="bold" text-anchor="middle" fill="#000"  stroke="#000" stroke-width="0.18">1</text>
<text x="387.36" y="117.2" font-size="6.1" font-weight="bold" text-anchor="middle" fill="#000"  stroke="#000" stroke-width="0.18">5</text>
<text x="402.54" y="117.2" font-size="6.1" font-weight="bold" text-anchor="middle" fill="#000"  stroke="#000" stroke-width="0.18">10</text>
<text x="417.72" y="117.2" font-size="6.1" font-weight="bold" text-anchor="middle" fill="#000"  stroke="#000" stroke-width="0.18">30</text>
<text x="432.9" y="117.2" font-size="6.1" font-weight="bold" text-anchor="middle" fill="#000"  stroke="#000" stroke-width="0.18">60</text>
<text x="448.08" y="117.2" font-size="6.1" font-weight="bold" text-anchor="middle" fill="#000"  stroke="#000" stroke-width="0.18">120</text>
<text x="402.5" y="126.4" font-size="6.6" font-weight="normal" text-anchor="middle" fill="#000" textLength="57.3" lengthAdjust="spacingAndGlyphs"  stroke="#000" stroke-width="0.18">Stimulation time (min)</text>
<text x="456.5" y="10.9" font-size="13.6" font-weight="bold" text-anchor="start" fill="#000" textLength="12.9" lengthAdjust="spacingAndGlyphs" stroke-width="0">D.</text>
<text x="559.1" y="22.2" font-size="7.4" font-weight="bold" text-anchor="middle" fill="#000" textLength="98.4" lengthAdjust="spacingAndGlyphs"  stroke="#000" stroke-width="0.18">Phospho PLCγ1 Signaling</text>
<line x1="523.95" y1="99.13" x2="523.95" y2="96.56" stroke="#e3262b" stroke-width="1.0" />
<line x1="521.75" y1="96.56" x2="526.1500000000001" y2="96.56" stroke="#e3262b" stroke-width="1.0" />
<line x1="523.95" y1="99.13" x2="523.95" y2="101.24" stroke="#e3262b" stroke-width="1.0" />
<line x1="521.75" y1="101.24" x2="526.1500000000001" y2="101.24" stroke="#e3262b" stroke-width="1.0" />
<line x1="541.4" y1="89.38" x2="541.4" y2="86.42" stroke="#e3262b" stroke-width="1.0" />
<line x1="539.1999999999999" y1="86.42" x2="543.6" y2="86.42" stroke="#e3262b" stroke-width="1.0" />
<line x1="541.4" y1="89.38" x2="541.4" y2="101.86" stroke="#e3262b" stroke-width="1.0" />
<line x1="539.1999999999999" y1="101.86" x2="543.6" y2="101.86" stroke="#e3262b" stroke-width="1.0" />
<line x1="558.85" y1="82.91" x2="558.85" y2="80.96" stroke="#e3262b" stroke-width="1.0" />
<line x1="556.65" y1="80.96" x2="561.0500000000001" y2="80.96" stroke="#e3262b" stroke-width="1.0" />
<line x1="558.85" y1="82.91" x2="558.85" y2="84.86" stroke="#e3262b" stroke-width="1.0" />
<line x1="556.65" y1="84.86" x2="561.0500000000001" y2="84.86" stroke="#e3262b" stroke-width="1.0" />
<line x1="576.3" y1="93.6" x2="576.3" y2="91.1" stroke="#e3262b" stroke-width="1.0" />
<line x1="574.0999999999999" y1="91.1" x2="578.5" y2="91.1" stroke="#e3262b" stroke-width="1.0" />
<line x1="576.3" y1="93.6" x2="576.3" y2="96.56" stroke="#e3262b" stroke-width="1.0" />
<line x1="574.0999999999999" y1="96.56" x2="578.5" y2="96.56" stroke="#e3262b" stroke-width="1.0" />
<line x1="593.75" y1="101.24" x2="593.75" y2="98.9" stroke="#e3262b" stroke-width="1.0" />
<line x1="591.55" y1="98.9" x2="595.95" y2="98.9" stroke="#e3262b" stroke-width="1.0" />
<line x1="593.75" y1="101.24" x2="593.75" y2="105.92" stroke="#e3262b" stroke-width="1.0" />
<line x1="591.55" y1="105.92" x2="595.95" y2="105.92" stroke="#e3262b" stroke-width="1.0" />
<line x1="611.2" y1="94.3" x2="611.2" y2="92.66" stroke="#e3262b" stroke-width="1.0" />
<line x1="609.0" y1="92.66" x2="613.4000000000001" y2="92.66" stroke="#e3262b" stroke-width="1.0" />
<line x1="611.2" y1="94.3" x2="611.2" y2="96.56" stroke="#e3262b" stroke-width="1.0" />
<line x1="609.0" y1="96.56" x2="613.4000000000001" y2="96.56" stroke="#e3262b" stroke-width="1.0" />
<line x1="523.95" y1="101.24" x2="523.95" y2="98.9" stroke="#3a57a7" stroke-width="1.0" />
<line x1="521.75" y1="98.9" x2="526.1500000000001" y2="98.9" stroke="#3a57a7" stroke-width="1.0" />
<line x1="523.95" y1="101.24" x2="523.95" y2="104.67" stroke="#3a57a7" stroke-width="1.0" />
<line x1="521.75" y1="104.67" x2="526.1500000000001" y2="104.67" stroke="#3a57a7" stroke-width="1.0" />
<line x1="541.4" y1="90.09" x2="541.4" y2="81.74" stroke="#3a57a7" stroke-width="1.0" />
<line x1="539.1999999999999" y1="81.74" x2="543.6" y2="81.74" stroke="#3a57a7" stroke-width="1.0" />
<line x1="541.4" y1="90.09" x2="541.4" y2="97.73" stroke="#3a57a7" stroke-width="1.0" />
<line x1="539.1999999999999" y1="97.73" x2="543.6" y2="97.73" stroke="#3a57a7" stroke-width="1.0" />
<line x1="558.85" y1="92.19" x2="558.85" y2="83.3" stroke="#3a57a7" stroke-width="1.0" />
<line x1="556.65" y1="83.3" x2="561.0500000000001" y2="83.3" stroke="#3a57a7" stroke-width="1.0" />
<line x1="558.85" y1="92.19" x2="558.85" y2="101.24" stroke="#3a57a7" stroke-width="1.0" />
<line x1="556.65" y1="101.24" x2="561.0500000000001" y2="101.24" stroke="#3a57a7" stroke-width="1.0" />
<line x1="576.3" y1="84.63" x2="576.3" y2="70.04" stroke="#3a57a7" stroke-width="1.0" />
<line x1="574.0999999999999" y1="70.04" x2="578.5" y2="70.04" stroke="#3a57a7" stroke-width="1.0" />
<line x1="576.3" y1="84.63" x2="576.3" y2="98.9" stroke="#3a57a7" stroke-width="1.0" />
<line x1="574.0999999999999" y1="98.9" x2="578.5" y2="98.9" stroke="#3a57a7" stroke-width="1.0" />
<line x1="593.75" y1="97.03" x2="593.75" y2="93.44" stroke="#3a57a7" stroke-width="1.0" />
<line x1="591.55" y1="93.44" x2="595.95" y2="93.44" stroke="#3a57a7" stroke-width="1.0" />
<line x1="593.75" y1="97.03" x2="593.75" y2="100.46" stroke="#3a57a7" stroke-width="1.0" />
<line x1="591.55" y1="100.46" x2="595.95" y2="100.46" stroke="#3a57a7" stroke-width="1.0" />
<line x1="611.2" y1="97.73" x2="611.2" y2="95.78" stroke="#3a57a7" stroke-width="1.0" />
<line x1="609.0" y1="95.78" x2="613.4000000000001" y2="95.78" stroke="#3a57a7" stroke-width="1.0" />
<line x1="611.2" y1="97.73" x2="611.2" y2="101.24" stroke="#3a57a7" stroke-width="1.0" />
<line x1="609.0" y1="101.24" x2="613.4000000000001" y2="101.24" stroke="#3a57a7" stroke-width="1.0" />
<line x1="523.95" y1="94.61" x2="523.95" y2="93.44" stroke="#3f8f3f" stroke-width="1.0" />
<line x1="521.75" y1="93.44" x2="526.1500000000001" y2="93.44" stroke="#3f8f3f" stroke-width="1.0" />
<line x1="523.95" y1="94.61" x2="523.95" y2="96.56" stroke="#3f8f3f" stroke-width="1.0" />
<line x1="521.75" y1="96.56" x2="526.1500000000001" y2="96.56" stroke="#3f8f3f" stroke-width="1.0" />
<line x1="541.4" y1="86.73" x2="541.4" y2="84.08" stroke="#3f8f3f" stroke-width="1.0" />
<line x1="539.1999999999999" y1="84.08" x2="543.6" y2="84.08" stroke="#3f8f3f" stroke-width="1.0" />
<line x1="541.4" y1="86.73" x2="541.4" y2="89.54" stroke="#3f8f3f" stroke-width="1.0" />
<line x1="539.1999999999999" y1="89.54" x2="543.6" y2="89.54" stroke="#3f8f3f" stroke-width="1.0" />
<line x1="558.85" y1="73.78" x2="558.85" y2="53.19" stroke="#3f8f3f" stroke-width="1.0" />
<line x1="556.65" y1="53.19" x2="561.0500000000001" y2="53.19" stroke="#3f8f3f" stroke-width="1.0" />
<line x1="558.85" y1="73.78" x2="558.85" y2="94.22" stroke="#3f8f3f" stroke-width="1.0" />
<line x1="556.65" y1="94.22" x2="561.0500000000001" y2="94.22" stroke="#3f8f3f" stroke-width="1.0" />
<line x1="576.3" y1="75.5" x2="576.3" y2="50.54" stroke="#3f8f3f" stroke-width="1.0" />
<line x1="574.0999999999999" y1="50.54" x2="578.5" y2="50.54" stroke="#3f8f3f" stroke-width="1.0" />
<line x1="576.3" y1="75.5" x2="576.3" y2="99.68" stroke="#3f8f3f" stroke-width="1.0" />
<line x1="574.0999999999999" y1="99.68" x2="578.5" y2="99.68" stroke="#3f8f3f" stroke-width="1.0" />
<line x1="593.75" y1="68.01" x2="593.75" y2="47.26" stroke="#3f8f3f" stroke-width="1.0" />
<line x1="591.55" y1="47.26" x2="595.95" y2="47.26" stroke="#3f8f3f" stroke-width="1.0" />
<line x1="593.75" y1="68.01" x2="593.75" y2="88.76" stroke="#3f8f3f" stroke-width="1.0" />
<line x1="591.55" y1="88.76" x2="595.95" y2="88.76" stroke="#3f8f3f" stroke-width="1.0" />
<line x1="611.2" y1="97.73" x2="611.2" y2="95.78" stroke="#3f8f3f" stroke-width="1.0" />
<line x1="609.0" y1="95.78" x2="613.4000000000001" y2="95.78" stroke="#3f8f3f" stroke-width="1.0" />
<line x1="611.2" y1="97.73" x2="611.2" y2="101.24" stroke="#3f8f3f" stroke-width="1.0" />
<line x1="609.0" y1="101.24" x2="613.4000000000001" y2="101.24" stroke="#3f8f3f" stroke-width="1.0" />
<line x1="523.95" y1="82.52" x2="523.95" y2="75.5" stroke="#f39324" stroke-width="1.0" />
<line x1="521.75" y1="75.5" x2="526.1500000000001" y2="75.5" stroke="#f39324" stroke-width="1.0" />
<line x1="523.95" y1="82.52" x2="523.95" y2="91.1" stroke="#f39324" stroke-width="1.0" />
<line x1="521.75" y1="91.1" x2="526.1500000000001" y2="91.1" stroke="#f39324" stroke-width="1.0" />
<line x1="541.4" y1="84.31" x2="541.4" y2="78.0" stroke="#f39324" stroke-width="1.0" />
<line x1="539.1999999999999" y1="78.0" x2="543.6" y2="78.0" stroke="#f39324" stroke-width="1.0" />
<line x1="541.4" y1="84.31" x2="541.4" y2="91.1" stroke="#f39324" stroke-width="1.0" />
<line x1="539.1999999999999" y1="91.1" x2="543.6" y2="91.1" stroke="#f39324" stroke-width="1.0" />
<line x1="558.85" y1="68.71" x2="558.85" y2="44.3" stroke="#f39324" stroke-width="1.0" />
<line x1="556.65" y1="44.3" x2="561.0500000000001" y2="44.3" stroke="#f39324" stroke-width="1.0" />
<line x1="558.85" y1="68.71" x2="558.85" y2="93.6" stroke="#f39324" stroke-width="1.0" />
<line x1="556.65" y1="93.6" x2="561.0500000000001" y2="93.6" stroke="#f39324" stroke-width="1.0" />
<line x1="576.3" y1="80.96" x2="576.3" y2="63.88" stroke="#f39324" stroke-width="1.0" />
<line x1="574.0999999999999" y1="63.88" x2="578.5" y2="63.88" stroke="#f39324" stroke-width="1.0" />
<line x1="576.3" y1="80.96" x2="576.3" y2="99.13" stroke="#f39324" stroke-width="1.0" />
<line x1="574.0999999999999" y1="99.13" x2="578.5" y2="99.13" stroke="#f39324" stroke-width="1.0" />
<line x1="593.75" y1="72.15" x2="593.75" y2="57.4" stroke="#f39324" stroke-width="1.0" />
<line x1="591.55" y1="57.4" x2="595.95" y2="57.4" stroke="#f39324" stroke-width="1.0" />
<line x1="593.75" y1="72.15" x2="593.75" y2="88.14" stroke="#f39324" stroke-width="1.0" />
<line x1="591.55" y1="88.14" x2="595.95" y2="88.14" stroke="#f39324" stroke-width="1.0" />
<line x1="611.2" y1="89.38" x2="611.2" y2="84.63" stroke="#f39324" stroke-width="1.0" />
<line x1="609.0" y1="84.63" x2="613.4000000000001" y2="84.63" stroke="#f39324" stroke-width="1.0" />
<line x1="611.2" y1="89.38" x2="611.2" y2="94.22" stroke="#f39324" stroke-width="1.0" />
<line x1="609.0" y1="94.22" x2="613.4000000000001" y2="94.22" stroke="#f39324" stroke-width="1.0" />
<polyline points="506.5,106.7 523.95,99.13 541.4,89.38 558.85,82.91 576.3,93.6 593.75,101.24 611.2,94.3" fill="none" stroke="#e3262b" stroke-width="1.8" stroke-linejoin="round"/>
<circle cx="506.5" cy="106.7" r="1.6" fill="#e3262b"/>
<circle cx="523.95" cy="99.13" r="1.6" fill="#e3262b"/>
<circle cx="541.4" cy="89.38" r="1.6" fill="#e3262b"/>
<circle cx="558.85" cy="82.91" r="1.6" fill="#e3262b"/>
<circle cx="576.3" cy="93.6" r="1.6" fill="#e3262b"/>
<circle cx="593.75" cy="101.24" r="1.6" fill="#e3262b"/>
<circle cx="611.2" cy="94.3" r="1.6" fill="#e3262b"/>
<polyline points="506.5,106.7 523.95,101.24 541.4,90.09 558.85,92.19 576.3,84.63 593.75,97.03 611.2,97.73" fill="none" stroke="#3a57a7" stroke-width="1.8" stroke-linejoin="round"/>
<circle cx="506.5" cy="106.7" r="1.6" fill="#3a57a7"/>
<circle cx="523.95" cy="101.24" r="1.6" fill="#3a57a7"/>
<circle cx="541.4" cy="90.09" r="1.6" fill="#3a57a7"/>
<circle cx="558.85" cy="92.19" r="1.6" fill="#3a57a7"/>
<circle cx="576.3" cy="84.63" r="1.6" fill="#3a57a7"/>
<circle cx="593.75" cy="97.03" r="1.6" fill="#3a57a7"/>
<circle cx="611.2" cy="97.73" r="1.6" fill="#3a57a7"/>
<polyline points="506.5,106.7 523.95,94.61 541.4,86.73 558.85,73.78 576.3,75.5 593.75,68.01 611.2,97.73" fill="none" stroke="#3f8f3f" stroke-width="1.8" stroke-linejoin="round"/>
<circle cx="506.5" cy="106.7" r="1.6" fill="#3f8f3f"/>
<circle cx="523.95" cy="94.61" r="1.6" fill="#3f8f3f"/>
<circle cx="541.4" cy="86.73" r="1.6" fill="#3f8f3f"/>
<circle cx="558.85" cy="73.78" r="1.6" fill="#3f8f3f"/>
<circle cx="576.3" cy="75.5" r="1.6" fill="#3f8f3f"/>
<circle cx="593.75" cy="68.01" r="1.6" fill="#3f8f3f"/>
<circle cx="611.2" cy="97.73" r="1.6" fill="#3f8f3f"/>
<polyline points="506.5,106.7 523.95,82.52 541.4,84.31 558.85,68.71 576.3,80.96 593.75,72.15 611.2,89.38" fill="none" stroke="#f39324" stroke-width="1.8" stroke-linejoin="round"/>
<circle cx="506.5" cy="106.7" r="1.6" fill="#f39324"/>
<circle cx="523.95" cy="82.52" r="1.6" fill="#f39324"/>
<circle cx="541.4" cy="84.31" r="1.6" fill="#f39324"/>
<circle cx="558.85" cy="68.71" r="1.6" fill="#f39324"/>
<circle cx="576.3" cy="80.96" r="1.6" fill="#f39324"/>
<circle cx="593.75" cy="72.15" r="1.6" fill="#f39324"/>
<circle cx="611.2" cy="89.38" r="1.6" fill="#f39324"/>
<line x1="495.4" y1="27.5" x2="495.4" y2="107.5" stroke="#000" stroke-width="1.6" />
<line x1="494.59999999999997" y1="106.7" x2="624.1" y2="106.7" stroke="#000" stroke-width="1.6" />
<line x1="491.9" y1="106.7" x2="495.4" y2="106.7" stroke="#000" stroke-width="1.2" />
<text x="490.0" y="108.968" font-size="6.3" font-weight="bold" text-anchor="end" fill="#000"  stroke="#000" stroke-width="0.18">0.0</text>
<line x1="491.9" y1="91.1" x2="495.4" y2="91.1" stroke="#000" stroke-width="1.2" />
<text x="490.0" y="93.368" font-size="6.3" font-weight="bold" text-anchor="end" fill="#000"  stroke="#000" stroke-width="0.18">0.2</text>
<line x1="491.9" y1="75.5" x2="495.4" y2="75.5" stroke="#000" stroke-width="1.2" />
<text x="490.0" y="77.768" font-size="6.3" font-weight="bold" text-anchor="end" fill="#000"  stroke="#000" stroke-width="0.18">0.4</text>
<line x1="491.9" y1="59.9" x2="495.4" y2="59.9" stroke="#000" stroke-width="1.2" />
<text x="490.0" y="62.168" font-size="6.3" font-weight="bold" text-anchor="end" fill="#000"  stroke="#000" stroke-width="0.18">0.6</text>
<line x1="491.9" y1="44.3" x2="495.4" y2="44.3" stroke="#000" stroke-width="1.2" />
<text x="490.0" y="46.568" font-size="6.3" font-weight="bold" text-anchor="end" fill="#000"  stroke="#000" stroke-width="0.18">0.8</text>
<line x1="491.9" y1="28.7" x2="495.4" y2="28.7" stroke="#000" stroke-width="1.2" />
<text x="490.0" y="30.968" font-size="6.3" font-weight="bold" text-anchor="end" fill="#000"  stroke="#000" stroke-width="0.18">1.0</text>
<line x1="506.5" y1="106.7" x2="506.5" y2="109.9" stroke="#000" stroke-width="1.2" />
<line x1="523.95" y1="106.7" x2="523.95" y2="109.9" stroke="#000" stroke-width="1.2" />
<line x1="541.4" y1="106.7" x2="541.4" y2="109.9" stroke="#000" stroke-width="1.2" />
<line x1="558.85" y1="106.7" x2="558.85" y2="109.9" stroke="#000" stroke-width="1.2" />
<line x1="576.3" y1="106.7" x2="576.3" y2="109.9" stroke="#000" stroke-width="1.2" />
<line x1="593.75" y1="106.7" x2="593.75" y2="109.9" stroke="#000" stroke-width="1.2" />
<line x1="611.2" y1="106.7" x2="611.2" y2="109.9" stroke="#000" stroke-width="1.2" />
<text x="474.9" y="67.4" font-size="7" font-weight="normal" text-anchor="middle" fill="#000" textLength="37.3" lengthAdjust="spacingAndGlyphs" transform="rotate(-90 474.9 67.4)"  stroke="#000" stroke-width="0.18">Δ MFI PLCγ1</text>
<text x="506.5" y="117.3" font-size="6.1" font-weight="bold" text-anchor="middle" fill="#000"  stroke="#000" stroke-width="0.18">0</text>
<text x="523.95" y="117.3" font-size="6.1" font-weight="bold" text-anchor="middle" fill="#000"  stroke="#000" stroke-width="0.18">1</text>
<text x="541.4" y="117.3" font-size="6.1" font-weight="bold" text-anchor="middle" fill="#000"  stroke="#000" stroke-width="0.18">5</text>
<text x="558.85" y="117.3" font-size="6.1" font-weight="bold" text-anchor="middle" fill="#000"  stroke="#000" stroke-width="0.18">10</text>
<text x="576.3" y="117.3" font-size="6.1" font-weight="bold" text-anchor="middle" fill="#000"  stroke="#000" stroke-width="0.18">30</text>
<text x="593.75" y="117.3" font-size="6.1" font-weight="bold" text-anchor="middle" fill="#000"  stroke="#000" stroke-width="0.18">60</text>
<text x="611.2" y="117.3" font-size="6.1" font-weight="bold" text-anchor="middle" fill="#000"  stroke="#000" stroke-width="0.18">120</text>
<text x="560.8" y="126.9" font-size="6.6" font-weight="normal" text-anchor="middle" fill="#000" textLength="69" lengthAdjust="spacingAndGlyphs"  stroke="#000" stroke-width="0.18">Stimulation time (min)</text>
<line x1="643" y1="33.3" x2="653.8" y2="33.3" stroke="#e3262b" stroke-width="1.5" />
<circle cx="648.4" cy="33.3" r="1.4" fill="#e3262b"/>
<text x="658.2" y="35.699999999999996" font-size="6.85" font-weight="normal" text-anchor="start" fill="#111" stroke="#111" stroke-width="0.05">WT</text>
<line x1="643" y1="44.4" x2="653.8" y2="44.4" stroke="#3a57a7" stroke-width="1.5" />
<circle cx="648.4" cy="44.4" r="1.4" fill="#3a57a7"/>
<text x="658.2" y="46.8" font-size="6.85" font-weight="normal" text-anchor="start" fill="#111" stroke="#111" stroke-width="0.05">E-Syt1 KO</text>
<line x1="643" y1="55.2" x2="653.8" y2="55.2" stroke="#3f8f3f" stroke-width="1.5" />
<circle cx="648.4" cy="55.2" r="1.4" fill="#3f8f3f"/>
<text x="658.2" y="57.6" font-size="6.85" font-weight="normal" text-anchor="start" fill="#111" stroke="#111" stroke-width="0.05">E-Syt2 KO</text>
<line x1="643" y1="66.3" x2="653.8" y2="66.3" stroke="#f39324" stroke-width="1.5" />
<circle cx="648.4" cy="66.3" r="1.4" fill="#f39324"/>
<text x="658.2" y="68.7" font-size="6.85" font-weight="normal" text-anchor="start" fill="#111" textLength="45.7" lengthAdjust="spacingAndGlyphs" stroke="#111" stroke-width="0.05">E-Syt1&amp;2 DKO</text>
<text x="3.7" y="167.6" font-size="13.8" font-weight="bold" text-anchor="start" fill="#000" textLength="11.2" lengthAdjust="spacingAndGlyphs" stroke-width="0">E.</text>
<text x="11.6" y="188.7" font-size="8.3" font-weight="normal" text-anchor="start" fill="#222" textLength="57.7" lengthAdjust="spacingAndGlyphs" stroke="#222" stroke-width="0.15">Stimulation (min)</text>
<text x="124.5" y="176.8" font-size="12.4" font-weight="bold" text-anchor="middle" fill="#bf151b" textLength="16.6" lengthAdjust="spacingAndGlyphs" stroke="#bf151b" stroke-width="0.6">WT</text>
<text x="225.4" y="176.7" font-size="12.2" font-weight="bold" text-anchor="middle" fill="#0f8a3a" textLength="45.5" lengthAdjust="spacingAndGlyphs" stroke="#0f8a3a" stroke-width="0.65">E-Syt2 KO</text>
<line x1="69.2" y1="179.1" x2="168.2" y2="179.1" stroke="#b4b4b4" stroke-width="0.9" />
<line x1="177.5" y1="179.1" x2="276.5" y2="179.1" stroke="#b4b4b4" stroke-width="0.9" />
<text x="78.9" y="188.7" font-size="8.1" font-weight="normal" text-anchor="middle" fill="#222" stroke="#222" stroke-width="0.15">0</text>
<text x="91.9" y="188.7" font-size="8.1" font-weight="normal" text-anchor="middle" fill="#222" stroke="#222" stroke-width="0.15">1</text>
<text x="105.7" y="188.7" font-size="8.1" font-weight="normal" text-anchor="middle" fill="#222" stroke="#222" stroke-width="0.15">5</text>
<text x="119" y="188.7" font-size="8.1" font-weight="normal" text-anchor="middle" fill="#222" stroke="#222" stroke-width="0.15">10</text>
<text x="132.9" y="188.7" font-size="8.1" font-weight="normal" text-anchor="middle" fill="#222" stroke="#222" stroke-width="0.15">30</text>
<text x="145.9" y="188.7" font-size="8.1" font-weight="normal" text-anchor="middle" fill="#222" stroke="#222" stroke-width="0.15">60</text>
<text x="160.6" y="188.7" font-size="8.1" font-weight="normal" text-anchor="middle" fill="#222" stroke="#222" stroke-width="0.15">120</text>
<text x="183" y="188.7" font-size="8.1" font-weight="normal" text-anchor="middle" fill="#222" stroke="#222" stroke-width="0.15">0</text>
<text x="196.9" y="188.7" font-size="8.1" font-weight="normal" text-anchor="middle" fill="#222" stroke="#222" stroke-width="0.15">1</text>
<text x="210.2" y="188.7" font-size="8.1" font-weight="normal" text-anchor="middle" fill="#222" stroke="#222" stroke-width="0.15">5</text>
<text x="224" y="188.7" font-size="8.1" font-weight="normal" text-anchor="middle" fill="#222" stroke="#222" stroke-width="0.15">10</text>
<text x="237.6" y="188.7" font-size="8.1" font-weight="normal" text-anchor="middle" fill="#222" stroke="#222" stroke-width="0.15">30</text>
<text x="250.9" y="188.7" font-size="8.1" font-weight="normal" text-anchor="middle" fill="#222" stroke="#222" stroke-width="0.15">60</text>
<text x="266.9" y="188.7" font-size="8.1" font-weight="normal" text-anchor="middle" fill="#222" stroke="#222" stroke-width="0.15">120</text>
<rect x="70.4" y="192.5" width="97.69999999999999" height="18.099999999999994" fill="#f3f3f3" stroke="#111" stroke-width="1.3"/>
<rect x="74.70" y="197.20" width="10.00" height="3.00" rx="1.00" fill="rgb(215,215,215)" filter="url(#bl)"/>
<rect x="74.70" y="202.50" width="10.00" height="4.20" rx="1.40" fill="rgb(225,225,225)" filter="url(#bl)"/>
<rect x="87.40" y="197.20" width="10.00" height="3.00" rx="1.00" fill="rgb(45,45,45)" filter="url(#bl)"/>
<rect x="87.40" y="202.50" width="10.00" height="4.20" rx="1.40" fill="rgb(5,5,5)" filter="url(#bl)"/>
<rect x="100.40" y="197.20" width="10.00" height="3.00" rx="1.00" fill="rgb(60,60,60)" filter="url(#bl)"/>
<rect x="100.40" y="202.50" width="10.00" height="4.20" rx="1.40" fill="rgb(15,15,15)" filter="url(#bl)"/>
<rect x="113.80" y="197.20" width="10.00" height="3.00" rx="1.00" fill="rgb(80,80,80)" filter="url(#bl)"/>
<rect x="113.80" y="202.50" width="10.00" height="4.20" rx="1.40" fill="rgb(45,45,45)" filter="url(#bl)"/>
<rect x="127.10" y="197.20" width="10.00" height="3.00" rx="1.00" fill="rgb(150,150,150)" filter="url(#bl)"/>
<rect x="127.10" y="202.50" width="10.00" height="4.20" rx="1.40" fill="rgb(120,120,120)" filter="url(#bl)"/>
<rect x="140.70" y="197.20" width="10.00" height="3.00" rx="1.00" fill="rgb(205,205,205)" filter="url(#bl)"/>
<rect x="140.70" y="202.50" width="10.00" height="4.20" rx="1.40" fill="rgb(215,215,215)" filter="url(#bl)"/>
<rect x="153.90" y="197.20" width="10.00" height="3.00" rx="1.00" fill="rgb(200,200,200)" filter="url(#bl)"/>
<rect x="153.90" y="202.50" width="10.00" height="4.20" rx="1.40" fill="rgb(215,215,215)" filter="url(#bl)"/>
<rect x="70.4" y="214.3" width="97.69999999999999" height="18.299999999999983" fill="#f3f3f3" stroke="#111" stroke-width="1.3"/>
<rect x="73.60" y="218.40" width="10.80" height="4.00" rx="1.33" fill="rgb(0,0,0)" filter="url(#bl)"/>
<rect x="73.85" y="226.00" width="10.30" height="3.20" rx="1.07" fill="rgb(25,25,25)" filter="url(#bl)"/>
<rect x="86.60" y="218.40" width="10.80" height="4.00" rx="1.33" fill="rgb(15,15,15)" filter="url(#bl)"/>
<rect x="86.85" y="226.00" width="10.30" height="3.20" rx="1.07" fill="rgb(150,150,150)" filter="url(#bl)"/>
<rect x="99.80" y="218.40" width="10.80" height="4.00" rx="1.33" fill="rgb(25,25,25)" filter="url(#bl)"/>
<rect x="100.05" y="226.00" width="10.30" height="3.20" rx="1.07" fill="rgb(165,165,165)" filter="url(#bl)"/>
<rect x="113.80" y="218.40" width="10.80" height="4.00" rx="1.33" fill="rgb(25,25,25)" filter="url(#bl)"/>
<rect x="114.05" y="226.00" width="10.30" height="3.20" rx="1.07" fill="rgb(165,165,165)" filter="url(#bl)"/>
<rect x="127.70" y="218.40" width="10.80" height="4.00" rx="1.33" fill="rgb(15,15,15)" filter="url(#bl)"/>
<rect x="127.95" y="226.00" width="10.30" height="3.20" rx="1.07" fill="rgb(45,45,45)" filter="url(#bl)"/>
<rect x="141.10" y="218.40" width="10.80" height="4.00" rx="1.33" fill="rgb(15,15,15)" filter="url(#bl)"/>
<rect x="141.35" y="226.00" width="10.30" height="3.20" rx="1.07" fill="rgb(45,45,45)" filter="url(#bl)"/>
<rect x="155.20" y="218.40" width="10.80" height="4.00" rx="1.33" fill="rgb(15,15,15)" filter="url(#bl)"/>
<rect x="155.45" y="226.00" width="10.30" height="3.20" rx="1.07" fill="rgb(45,45,45)" filter="url(#bl)"/>
<rect x="71" y="236.3" width="97.1" height="19.19999999999999" fill="#f3f3f3" stroke="#111" stroke-width="1.3"/>
<rect x="74.60" y="241.80" width="11.00" height="7.40" rx="2.47" fill="rgb(50,50,50)" filter="url(#bl)"/>
<rect x="87.00" y="242.90" width="11.00" height="7.40" rx="2.47" fill="rgb(50,50,50)" filter="url(#bl)"/>
<rect x="99.70" y="243.30" width="11.00" height="7.40" rx="2.47" fill="rgb(40,40,40)" filter="url(#bl)"/>
<rect x="113.10" y="243.30" width="11.00" height="7.40" rx="2.47" fill="rgb(45,45,45)" filter="url(#bl)"/>
<rect x="126.00" y="242.40" width="11.00" height="7.40" rx="2.47" fill="rgb(50,50,50)" filter="url(#bl)"/>
<rect x="138.90" y="242.10" width="11.00" height="7.40" rx="2.47" fill="rgb(55,55,55)" filter="url(#bl)"/>
<rect x="152.30" y="240.90" width="11.00" height="7.40" rx="2.47" fill="rgb(70,70,70)" filter="url(#bl)"/>
<rect x="174.3" y="192.5" width="100.19999999999999" height="18.099999999999994" fill="#f3f3f3" stroke="#111" stroke-width="1.3"/>
<rect x="178.90" y="198.00" width="11.00" height="2.00" rx="0.67" fill="rgb(165,165,165)" filter="url(#bl)"/>
<rect x="178.90" y="203.40" width="11.00" height="2.40" rx="0.80" fill="rgb(125,125,125)" filter="url(#bl)"/>
<rect x="191.70" y="196.70" width="11.00" height="4.60" rx="1.53" fill="rgb(0,0,0)" filter="url(#bl)"/>
<rect x="191.70" y="202.00" width="11.00" height="5.20" rx="1.73" fill="rgb(0,0,0)" filter="url(#bl)"/>
<rect x="205.10" y="196.70" width="11.00" height="4.60" rx="1.53" fill="rgb(0,0,0)" filter="url(#bl)"/>
<rect x="205.10" y="202.00" width="11.00" height="5.20" rx="1.73" fill="rgb(0,0,0)" filter="url(#bl)"/>
<rect x="218.50" y="196.70" width="11.00" height="4.60" rx="1.53" fill="rgb(0,0,0)" filter="url(#bl)"/>
<rect x="218.50" y="202.00" width="11.00" height="5.20" rx="1.73" fill="rgb(0,0,0)" filter="url(#bl)"/>
<rect x="232.00" y="197.20" width="11.00" height="3.60" rx="1.20" fill="rgb(10,10,10)" filter="url(#bl)"/>
<rect x="232.00" y="202.50" width="11.00" height="4.20" rx="1.40" fill="rgb(0,0,0)" filter="url(#bl)"/>
<rect x="245.40" y="197.60" width="11.00" height="2.80" rx="0.93" fill="rgb(110,110,110)" filter="url(#bl)"/>
<rect x="245.40" y="202.90" width="11.00" height="3.40" rx="1.13" fill="rgb(35,35,35)" filter="url(#bl)"/>
<rect x="258.80" y="197.90" width="11.00" height="2.20" rx="0.73" fill="rgb(190,190,190)" filter="url(#bl)"/>
<rect x="258.80" y="203.30" width="11.00" height="2.60" rx="0.87" fill="rgb(155,155,155)" filter="url(#bl)"/>
<rect x="174.3" y="214.3" width="99.5" height="18.299999999999983" fill="#f3f3f3" stroke="#111" stroke-width="1.3"/>
<rect x="177.10" y="218.45" width="11.00" height="3.90" rx="1.30" fill="rgb(0,0,0)" filter="url(#bl)"/>
<rect x="177.35" y="225.90" width="10.50" height="2.60" rx="0.87" fill="rgb(30,30,30)" filter="url(#bl)"/>
<rect x="190.50" y="218.45" width="11.00" height="3.90" rx="1.30" fill="rgb(0,0,0)" filter="url(#bl)"/>
<rect x="190.75" y="225.90" width="10.50" height="2.60" rx="0.87" fill="rgb(30,30,30)" filter="url(#bl)"/>
<rect x="204.30" y="218.45" width="11.00" height="3.90" rx="1.30" fill="rgb(15,15,15)" filter="url(#bl)"/>
<rect x="204.55" y="225.90" width="10.50" height="2.60" rx="0.87" fill="rgb(140,140,140)" filter="url(#bl)"/>
<rect x="218.00" y="218.45" width="11.00" height="3.90" rx="1.30" fill="rgb(15,15,15)" filter="url(#bl)"/>
<rect x="218.25" y="225.90" width="10.50" height="2.60" rx="0.87" fill="rgb(170,170,170)" filter="url(#bl)"/>
<rect x="231.00" y="218.45" width="11.00" height="3.90" rx="1.30" fill="rgb(15,15,15)" filter="url(#bl)"/>
<rect x="231.25" y="225.90" width="10.50" height="2.60" rx="0.87" fill="rgb(175,175,175)" filter="url(#bl)"/>
<rect x="245.50" y="218.45" width="11.00" height="3.90" rx="1.30" fill="rgb(140,140,140)" filter="url(#bl)"/>
<rect x="245.75" y="225.90" width="10.50" height="2.60" rx="0.87" fill="rgb(205,205,205)" filter="url(#bl)"/>
<rect x="259.90" y="218.45" width="11.00" height="3.90" rx="1.30" fill="rgb(150,150,150)" filter="url(#bl)"/>
<rect x="260.15" y="225.90" width="10.50" height="2.60" rx="0.87" fill="rgb(215,215,215)" filter="url(#bl)"/>
<rect x="173.6" y="236.6" width="100.20000000000002" height="19.700000000000017" fill="#f3f3f3" stroke="#111" stroke-width="1.3"/>
<rect x="176.25" y="240.90" width="11.50" height="8.60" rx="2.87" fill="rgb(0,0,0)" filter="url(#bl)"/>
<rect x="189.55" y="240.90" width="11.50" height="8.60" rx="2.87" fill="rgb(50,50,50)" filter="url(#bl)"/>
<rect x="203.25" y="241.30" width="11.50" height="8.60" rx="2.87" fill="rgb(150,150,150)" filter="url(#bl)"/>
<rect x="216.75" y="241.10" width="11.50" height="8.60" rx="2.87" fill="rgb(0,0,0)" filter="url(#bl)"/>
<rect x="229.25" y="240.90" width="11.50" height="8.60" rx="2.87" fill="rgb(0,0,0)" filter="url(#bl)"/>
<rect x="244.05" y="239.20" width="11.50" height="8.60" rx="2.87" fill="rgb(5,5,5)" filter="url(#bl)"/>
<rect x="258.45" y="240.70" width="11.50" height="8.60" rx="2.87" fill="rgb(190,190,190)" filter="url(#bl)"/>
<text x="280.9" y="205.6" font-size="7.6" font-weight="normal" text-anchor="start" fill="#222" textLength="74.3" lengthAdjust="spacingAndGlyphs"  stroke="#222" stroke-width="0.18">p-MAPK (42, 44 kDa)</text>
<text x="280.9" y="227.3" font-size="7.6" font-weight="normal" text-anchor="start" fill="#222" textLength="67.1" lengthAdjust="spacingAndGlyphs"  stroke="#222" stroke-width="0.18">MAPK (42, 44 kDa)</text>
<text x="280.9" y="246" font-size="7.6" font-weight="normal" text-anchor="start" fill="#222" textLength="55" lengthAdjust="spacingAndGlyphs"  stroke="#222" stroke-width="0.18">β-actin (42 kDa)</text>
<text x="365.2" y="167.6" font-size="13.8" font-weight="bold" text-anchor="start" fill="#000" textLength="9.4" lengthAdjust="spacingAndGlyphs" stroke-width="0">F.</text>
<text x="463.6" y="172.6" font-size="7.4" font-weight="bold" text-anchor="middle" fill="#000" textLength="92.8" lengthAdjust="spacingAndGlyphs"  stroke="#000" stroke-width="0.18">Phospho MAPK Signaling</text>
<line x1="430.55" y1="241.48" x2="430.55" y2="236.2" stroke="#e3262b" stroke-width="1.0" />
<line x1="428.35" y1="236.2" x2="432.75" y2="236.2" stroke="#e3262b" stroke-width="1.0" />
<line x1="430.55" y1="241.48" x2="430.55" y2="246.1" stroke="#e3262b" stroke-width="1.0" />
<line x1="428.35" y1="246.1" x2="432.75" y2="246.1" stroke="#e3262b" stroke-width="1.0" />
<line x1="447.0" y1="241.81" x2="447.0" y2="237.03" stroke="#e3262b" stroke-width="1.0" />
<line x1="444.8" y1="237.03" x2="449.2" y2="237.03" stroke="#e3262b" stroke-width="1.0" />
<line x1="447.0" y1="241.81" x2="447.0" y2="251.22" stroke="#e3262b" stroke-width="1.0" />
<line x1="444.8" y1="251.22" x2="449.2" y2="251.22" stroke="#e3262b" stroke-width="1.0" />
<line x1="463.45" y1="241.15" x2="463.45" y2="237.85" stroke="#e3262b" stroke-width="1.0" />
<line x1="461.25" y1="237.85" x2="465.65" y2="237.85" stroke="#e3262b" stroke-width="1.0" />
<line x1="463.45" y1="241.15" x2="463.45" y2="244.45" stroke="#e3262b" stroke-width="1.0" />
<line x1="461.25" y1="244.45" x2="465.65" y2="244.45" stroke="#e3262b" stroke-width="1.0" />
<line x1="479.9" y1="244.62" x2="479.9" y2="241.97" stroke="#e3262b" stroke-width="1.0" />
<line x1="477.7" y1="241.97" x2="482.09999999999997" y2="241.97" stroke="#e3262b" stroke-width="1.0" />
<line x1="479.9" y1="244.62" x2="479.9" y2="250.8" stroke="#e3262b" stroke-width="1.0" />
<line x1="477.7" y1="250.8" x2="482.09999999999997" y2="250.8" stroke="#e3262b" stroke-width="1.0" />
<line x1="496.35" y1="238.02" x2="496.35" y2="234.55" stroke="#e3262b" stroke-width="1.0" />
<line x1="494.15000000000003" y1="234.55" x2="498.55" y2="234.55" stroke="#e3262b" stroke-width="1.0" />
<line x1="496.35" y1="238.02" x2="496.35" y2="256.41" stroke="#e3262b" stroke-width="1.0" />
<line x1="494.15000000000003" y1="256.41" x2="498.55" y2="256.41" stroke="#e3262b" stroke-width="1.0" />
<line x1="512.8" y1="238.02" x2="512.8" y2="219.21" stroke="#e3262b" stroke-width="1.0" />
<line x1="510.59999999999997" y1="219.21" x2="515.0" y2="219.21" stroke="#e3262b" stroke-width="1.0" />
<line x1="512.8" y1="238.02" x2="512.8" y2="253.11" stroke="#e3262b" stroke-width="1.0" />
<line x1="510.59999999999997" y1="253.11" x2="515.0" y2="253.11" stroke="#e3262b" stroke-width="1.0" />
<line x1="414.1" y1="243.62" x2="414.1" y2="239.5" stroke="#3a57a7" stroke-width="1.0" />
<line x1="411.90000000000003" y1="239.5" x2="416.3" y2="239.5" stroke="#3a57a7" stroke-width="1.0" />
<line x1="414.1" y1="243.62" x2="414.1" y2="247.75" stroke="#3a57a7" stroke-width="1.0" />
<line x1="411.90000000000003" y1="247.75" x2="416.3" y2="247.75" stroke="#3a57a7" stroke-width="1.0" />
<line x1="430.55" y1="222.84" x2="430.55" y2="204.27" stroke="#3a57a7" stroke-width="1.0" />
<line x1="428.35" y1="204.27" x2="432.75" y2="204.27" stroke="#3a57a7" stroke-width="1.0" />
<line x1="430.55" y1="222.84" x2="430.55" y2="241.15" stroke="#3a57a7" stroke-width="1.0" />
<line x1="428.35" y1="241.15" x2="432.75" y2="241.15" stroke="#3a57a7" stroke-width="1.0" />
<line x1="447.0" y1="235.38" x2="447.0" y2="227.95" stroke="#3a57a7" stroke-width="1.0" />
<line x1="444.8" y1="227.95" x2="449.2" y2="227.95" stroke="#3a57a7" stroke-width="1.0" />
<line x1="447.0" y1="235.38" x2="447.0" y2="247.75" stroke="#3a57a7" stroke-width="1.0" />
<line x1="444.8" y1="247.75" x2="449.2" y2="247.75" stroke="#3a57a7" stroke-width="1.0" />
<line x1="463.45" y1="237.03" x2="463.45" y2="232.9" stroke="#3a57a7" stroke-width="1.0" />
<line x1="461.25" y1="232.9" x2="465.65" y2="232.9" stroke="#3a57a7" stroke-width="1.0" />
<line x1="463.45" y1="237.03" x2="463.45" y2="243.87" stroke="#3a57a7" stroke-width="1.0" />
<line x1="461.25" y1="243.87" x2="465.65" y2="243.87" stroke="#3a57a7" stroke-width="1.0" />
<line x1="479.9" y1="239.83" x2="479.9" y2="233.31" stroke="#3a57a7" stroke-width="1.0" />
<line x1="477.7" y1="233.31" x2="482.09999999999997" y2="233.31" stroke="#3a57a7" stroke-width="1.0" />
<line x1="479.9" y1="239.83" x2="479.9" y2="246.1" stroke="#3a57a7" stroke-width="1.0" />
<line x1="477.7" y1="246.1" x2="482.09999999999997" y2="246.1" stroke="#3a57a7" stroke-width="1.0" />
<line x1="496.35" y1="236.28" x2="496.35" y2="228.78" stroke="#3a57a7" stroke-width="1.0" />
<line x1="494.15000000000003" y1="228.78" x2="498.55" y2="228.78" stroke="#3a57a7" stroke-width="1.0" />
<line x1="496.35" y1="236.28" x2="496.35" y2="245.28" stroke="#3a57a7" stroke-width="1.0" />
<line x1="494.15000000000003" y1="245.28" x2="498.55" y2="245.28" stroke="#3a57a7" stroke-width="1.0" />
<line x1="512.8" y1="229.44" x2="512.8" y2="201.22" stroke="#3a57a7" stroke-width="1.0" />
<line x1="510.59999999999997" y1="201.22" x2="515.0" y2="201.22" stroke="#3a57a7" stroke-width="1.0" />
<line x1="512.8" y1="229.44" x2="512.8" y2="257.07" stroke="#3a57a7" stroke-width="1.0" />
<line x1="510.59999999999997" y1="257.07" x2="515.0" y2="257.07" stroke="#3a57a7" stroke-width="1.0" />
<line x1="430.55" y1="213.93" x2="430.55" y2="190.17" stroke="#3f8f3f" stroke-width="1.0" />
<line x1="428.35" y1="190.17" x2="432.75" y2="190.17" stroke="#3f8f3f" stroke-width="1.0" />
<line x1="430.55" y1="213.93" x2="430.55" y2="235.38" stroke="#3f8f3f" stroke-width="1.0" />
<line x1="428.35" y1="235.38" x2="432.75" y2="235.38" stroke="#3f8f3f" stroke-width="1.0" />
<line x1="447.0" y1="233.23" x2="447.0" y2="215.99" stroke="#3f8f3f" stroke-width="1.0" />
<line x1="444.8" y1="215.99" x2="449.2" y2="215.99" stroke="#3f8f3f" stroke-width="1.0" />
<line x1="447.0" y1="233.23" x2="447.0" y2="247.75" stroke="#3f8f3f" stroke-width="1.0" />
<line x1="444.8" y1="247.75" x2="449.2" y2="247.75" stroke="#3f8f3f" stroke-width="1.0" />
<line x1="463.45" y1="235.62" x2="463.45" y2="220.28" stroke="#3f8f3f" stroke-width="1.0" />
<line x1="461.25" y1="220.28" x2="465.65" y2="220.28" stroke="#3f8f3f" stroke-width="1.0" />
<line x1="463.45" y1="235.62" x2="463.45" y2="246.93" stroke="#3f8f3f" stroke-width="1.0" />
<line x1="461.25" y1="246.93" x2="465.65" y2="246.93" stroke="#3f8f3f" stroke-width="1.0" />
<line x1="479.9" y1="241.81" x2="479.9" y2="238.68" stroke="#3f8f3f" stroke-width="1.0" />
<line x1="477.7" y1="238.68" x2="482.09999999999997" y2="238.68" stroke="#3f8f3f" stroke-width="1.0" />
<line x1="479.9" y1="241.81" x2="479.9" y2="245.28" stroke="#3f8f3f" stroke-width="1.0" />
<line x1="477.7" y1="245.28" x2="482.09999999999997" y2="245.28" stroke="#3f8f3f" stroke-width="1.0" />
<line x1="496.35" y1="236.28" x2="496.35" y2="217.8" stroke="#3f8f3f" stroke-width="1.0" />
<line x1="494.15000000000003" y1="217.8" x2="498.55" y2="217.8" stroke="#3f8f3f" stroke-width="1.0" />
<line x1="496.35" y1="236.28" x2="496.35" y2="253.53" stroke="#3f8f3f" stroke-width="1.0" />
<line x1="494.15000000000003" y1="253.53" x2="498.55" y2="253.53" stroke="#3f8f3f" stroke-width="1.0" />
<line x1="512.8" y1="238.02" x2="512.8" y2="225.23" stroke="#3f8f3f" stroke-width="1.0" />
<line x1="510.59999999999997" y1="225.23" x2="515.0" y2="225.23" stroke="#3f8f3f" stroke-width="1.0" />
<line x1="512.8" y1="238.02" x2="512.8" y2="252.21" stroke="#3f8f3f" stroke-width="1.0" />
<line x1="510.59999999999997" y1="252.21" x2="515.0" y2="252.21" stroke="#3f8f3f" stroke-width="1.0" />
<line x1="430.55" y1="226.63" x2="430.55" y2="200.4" stroke="#f39324" stroke-width="1.0" />
<line x1="428.35" y1="200.4" x2="432.75" y2="200.4" stroke="#f39324" stroke-width="1.0" />
<line x1="430.55" y1="226.63" x2="430.55" y2="254.02" stroke="#f39324" stroke-width="1.0" />
<line x1="428.35" y1="254.02" x2="432.75" y2="254.02" stroke="#f39324" stroke-width="1.0" />
<line x1="447.0" y1="238.02" x2="447.0" y2="222.18" stroke="#f39324" stroke-width="1.0" />
<line x1="444.8" y1="222.18" x2="449.2" y2="222.18" stroke="#f39324" stroke-width="1.0" />
<line x1="447.0" y1="238.02" x2="447.0" y2="254.68" stroke="#f39324" stroke-width="1.0" />
<line x1="444.8" y1="254.68" x2="449.2" y2="254.68" stroke="#f39324" stroke-width="1.0" />
<line x1="463.45" y1="241.81" x2="463.45" y2="231.41" stroke="#f39324" stroke-width="1.0" />
<line x1="461.25" y1="231.41" x2="465.65" y2="231.41" stroke="#f39324" stroke-width="1.0" />
<line x1="463.45" y1="241.81" x2="463.45" y2="252.62" stroke="#f39324" stroke-width="1.0" />
<line x1="461.25" y1="252.62" x2="465.65" y2="252.62" stroke="#f39324" stroke-width="1.0" />
<line x1="479.9" y1="246.02" x2="479.9" y2="243.62" stroke="#f39324" stroke-width="1.0" />
<line x1="477.7" y1="243.62" x2="482.09999999999997" y2="243.62" stroke="#f39324" stroke-width="1.0" />
<line x1="479.9" y1="246.02" x2="479.9" y2="248.58" stroke="#f39324" stroke-width="1.0" />
<line x1="477.7" y1="248.58" x2="482.09999999999997" y2="248.58" stroke="#f39324" stroke-width="1.0" />
<line x1="496.35" y1="241.81" x2="496.35" y2="234.22" stroke="#f39324" stroke-width="1.0" />
<line x1="494.15000000000003" y1="234.22" x2="498.55" y2="234.22" stroke="#f39324" stroke-width="1.0" />
<line x1="496.35" y1="241.81" x2="496.35" y2="249.4" stroke="#f39324" stroke-width="1.0" />
<line x1="494.15000000000003" y1="249.4" x2="498.55" y2="249.4" stroke="#f39324" stroke-width="1.0" />
<line x1="512.8" y1="241.81" x2="512.8" y2="234.22" stroke="#f39324" stroke-width="1.0" />
<line x1="510.59999999999997" y1="234.22" x2="515.0" y2="234.22" stroke="#f39324" stroke-width="1.0" />
<line x1="512.8" y1="241.81" x2="512.8" y2="250.47" stroke="#f39324" stroke-width="1.0" />
<line x1="510.59999999999997" y1="250.47" x2="515.0" y2="250.47" stroke="#f39324" stroke-width="1.0" />
<polyline points="414.1,247.75 430.55,241.48 447.0,241.81 463.45,241.15 479.9,244.62 496.35,238.02 512.8,238.02" fill="none" stroke="#e3262b" stroke-width="1.8" stroke-linejoin="round"/>
<circle cx="414.1" cy="247.75" r="1.6" fill="#e3262b"/>
<circle cx="430.55" cy="241.48" r="1.6" fill="#e3262b"/>
<circle cx="447.0" cy="241.81" r="1.6" fill="#e3262b"/>
<circle cx="463.45" cy="241.15" r="1.6" fill="#e3262b"/>
<circle cx="479.9" cy="244.62" r="1.6" fill="#e3262b"/>
<circle cx="496.35" cy="238.02" r="1.6" fill="#e3262b"/>
<circle cx="512.8" cy="238.02" r="1.6" fill="#e3262b"/>
<polyline points="414.1,243.62 430.55,222.84 447.0,235.38 463.45,237.03 479.9,239.83 496.35,236.28 512.8,229.44" fill="none" stroke="#3a57a7" stroke-width="1.8" stroke-linejoin="round"/>
<circle cx="414.1" cy="243.62" r="1.6" fill="#3a57a7"/>
<circle cx="430.55" cy="222.84" r="1.6" fill="#3a57a7"/>
<circle cx="447.0" cy="235.38" r="1.6" fill="#3a57a7"/>
<circle cx="463.45" cy="237.03" r="1.6" fill="#3a57a7"/>
<circle cx="479.9" cy="239.83" r="1.6" fill="#3a57a7"/>
<circle cx="496.35" cy="236.28" r="1.6" fill="#3a57a7"/>
<circle cx="512.8" cy="229.44" r="1.6" fill="#3a57a7"/>
<polyline points="414.1,245.03 430.55,213.93 447.0,233.23 463.45,235.62 479.9,241.81 496.35,236.28 512.8,238.02" fill="none" stroke="#3f8f3f" stroke-width="1.8" stroke-linejoin="round"/>
<circle cx="414.1" cy="245.03" r="1.6" fill="#3f8f3f"/>
<circle cx="430.55" cy="213.93" r="1.6" fill="#3f8f3f"/>
<circle cx="447.0" cy="233.23" r="1.6" fill="#3f8f3f"/>
<circle cx="463.45" cy="235.62" r="1.6" fill="#3f8f3f"/>
<circle cx="479.9" cy="241.81" r="1.6" fill="#3f8f3f"/>
<circle cx="496.35" cy="236.28" r="1.6" fill="#3f8f3f"/>
<circle cx="512.8" cy="238.02" r="1.6" fill="#3f8f3f"/>
<polyline points="414.1,247.75 430.55,226.63 447.0,238.02 463.45,241.81 479.9,246.02 496.35,241.81 512.8,241.81" fill="none" stroke="#f39324" stroke-width="1.8" stroke-linejoin="round"/>
<circle cx="414.1" cy="247.75" r="1.6" fill="#f39324"/>
<circle cx="430.55" cy="226.63" r="1.6" fill="#f39324"/>
<circle cx="447.0" cy="238.02" r="1.6" fill="#f39324"/>
<circle cx="463.45" cy="241.81" r="1.6" fill="#f39324"/>
<circle cx="479.9" cy="246.02" r="1.6" fill="#f39324"/>
<circle cx="496.35" cy="241.81" r="1.6" fill="#f39324"/>
<circle cx="512.8" cy="241.81" r="1.6" fill="#f39324"/>
<line x1="403.6" y1="182.5" x2="403.6" y2="266.7" stroke="#000" stroke-width="1.6" />
<line x1="402.8" y1="265.9" x2="522.8" y2="265.9" stroke="#000" stroke-width="1.6" />
<line x1="400.1" y1="183.4" x2="403.6" y2="183.4" stroke="#000" stroke-width="1.2" />
<text x="398.20000000000005" y="185.668" font-size="6.3" font-weight="bold" text-anchor="end" fill="#000"  stroke="#000" stroke-width="0.18">8</text>
<line x1="400.1" y1="199.9" x2="403.6" y2="199.9" stroke="#000" stroke-width="1.2" />
<text x="398.20000000000005" y="202.168" font-size="6.3" font-weight="bold" text-anchor="end" fill="#000"  stroke="#000" stroke-width="0.18">6</text>
<line x1="400.1" y1="216.4" x2="403.6" y2="216.4" stroke="#000" stroke-width="1.2" />
<text x="398.20000000000005" y="218.668" font-size="6.3" font-weight="bold" text-anchor="end" fill="#000"  stroke="#000" stroke-width="0.18">4</text>
<line x1="400.1" y1="232.9" x2="403.6" y2="232.9" stroke="#000" stroke-width="1.2" />
<text x="398.20000000000005" y="235.168" font-size="6.3" font-weight="bold" text-anchor="end" fill="#000"  stroke="#000" stroke-width="0.18">2</text>
<line x1="400.1" y1="249.4" x2="403.6" y2="249.4" stroke="#000" stroke-width="1.2" />
<text x="398.20000000000005" y="251.668" font-size="6.3" font-weight="bold" text-anchor="end" fill="#000"  stroke="#000" stroke-width="0.18">0</text>
<line x1="400.1" y1="265.9" x2="403.6" y2="265.9" stroke="#000" stroke-width="1.2" />
<text x="398.20000000000005" y="268.16799999999995" font-size="6.3" font-weight="bold" text-anchor="end" fill="#000"  stroke="#000" stroke-width="0.18">-2</text>
<line x1="414.1" y1="265.9" x2="414.1" y2="269.09999999999997" stroke="#000" stroke-width="1.2" />
<line x1="430.55" y1="265.9" x2="430.55" y2="269.09999999999997" stroke="#000" stroke-width="1.2" />
<line x1="447.0" y1="265.9" x2="447.0" y2="269.09999999999997" stroke="#000" stroke-width="1.2" />
<line x1="463.45" y1="265.9" x2="463.45" y2="269.09999999999997" stroke="#000" stroke-width="1.2" />
<line x1="479.9" y1="265.9" x2="479.9" y2="269.09999999999997" stroke="#000" stroke-width="1.2" />
<line x1="496.35" y1="265.9" x2="496.35" y2="269.09999999999997" stroke="#000" stroke-width="1.2" />
<line x1="512.8" y1="265.9" x2="512.8" y2="269.09999999999997" stroke="#000" stroke-width="1.2" />
<path d="M430.30,181.70L430.30,185.10M428.83,182.55L431.77,184.25M431.77,182.55L428.83,184.25" stroke="#3f8f3f" stroke-width="0.95" fill="none"/>
<line x1="404.6" y1="249.4" x2="523.8" y2="249.4" stroke="#000" stroke-width="1.1" stroke-dasharray="1.6,1.6"/>
<text x="382.2" y="225.3" font-size="7.2" font-weight="normal" text-anchor="middle" fill="#000" textLength="31.1" lengthAdjust="spacingAndGlyphs" transform="rotate(-90 382.2 225.3)"  stroke="#000" stroke-width="0.18">Normalized</text>
<text x="390.6" y="223.2" font-size="7.2" font-weight="normal" text-anchor="middle" fill="#000" textLength="44" lengthAdjust="spacingAndGlyphs" transform="rotate(-90 390.6 223.2)"  stroke="#000" stroke-width="0.18">phospho-MAPK</text>
<text x="414.1" y="277.1" font-size="6.1" font-weight="bold" text-anchor="middle" fill="#000"  stroke="#000" stroke-width="0.18">0</text>
<text x="430.55" y="277.1" font-size="6.1" font-weight="bold" text-anchor="middle" fill="#000"  stroke="#000" stroke-width="0.18">1</text>
<text x="447.0" y="277.1" font-size="6.1" font-weight="bold" text-anchor="middle" fill="#000"  stroke="#000" stroke-width="0.18">5</text>
<text x="463.45" y="277.1" font-size="6.1" font-weight="bold" text-anchor="middle" fill="#000"  stroke="#000" stroke-width="0.18">10</text>
<text x="479.9" y="277.1" font-size="6.1" font-weight="bold" text-anchor="middle" fill="#000"  stroke="#000" stroke-width="0.18">30</text>
<text x="496.35" y="277.1" font-size="6.1" font-weight="bold" text-anchor="middle" fill="#000"  stroke="#000" stroke-width="0.18">60</text>
<text x="512.8" y="277.1" font-size="6.1" font-weight="bold" text-anchor="middle" fill="#000"  stroke="#000" stroke-width="0.18">120</text>
<text x="464.2" y="286.4" font-size="6.6" font-weight="normal" text-anchor="middle" fill="#000" textLength="61.8" lengthAdjust="spacingAndGlyphs"  stroke="#000" stroke-width="0.18">Stimulation time (min)</text>
<line x1="541.7" y1="188.9" x2="552.1" y2="188.9" stroke="#e3262b" stroke-width="1.5" />
<circle cx="546.9000000000001" cy="188.9" r="1.4" fill="#e3262b"/>
<text x="555.6" y="191.3" font-size="6.6" font-weight="normal" text-anchor="start" fill="#111" stroke="#111" stroke-width="0.05">WT</text>
<line x1="541.7" y1="200.9" x2="552.1" y2="200.9" stroke="#3a57a7" stroke-width="1.5" />
<circle cx="546.9000000000001" cy="200.9" r="1.4" fill="#3a57a7"/>
<text x="555.6" y="203.3" font-size="6.6" font-weight="normal" text-anchor="start" fill="#111" stroke="#111" stroke-width="0.05">E-Syt1 KO</text>
<line x1="541.7" y1="212.3" x2="552.1" y2="212.3" stroke="#3f8f3f" stroke-width="1.5" />
<circle cx="546.9000000000001" cy="212.3" r="1.4" fill="#3f8f3f"/>
<text x="555.6" y="214.70000000000002" font-size="6.6" font-weight="normal" text-anchor="start" fill="#111" stroke="#111" stroke-width="0.05">E-Syt2 KO</text>
<line x1="541.7" y1="223.7" x2="552.1" y2="223.7" stroke="#f39324" stroke-width="1.5" />
<circle cx="546.9000000000001" cy="223.7" r="1.4" fill="#f39324"/>
<text x="555.6" y="226.1" font-size="6.6" font-weight="normal" text-anchor="start" fill="#111" textLength="43.8" lengthAdjust="spacingAndGlyphs" stroke="#111" stroke-width="0.05">E-Syt1&amp;2 DKO</text>
</svg></body></html>
